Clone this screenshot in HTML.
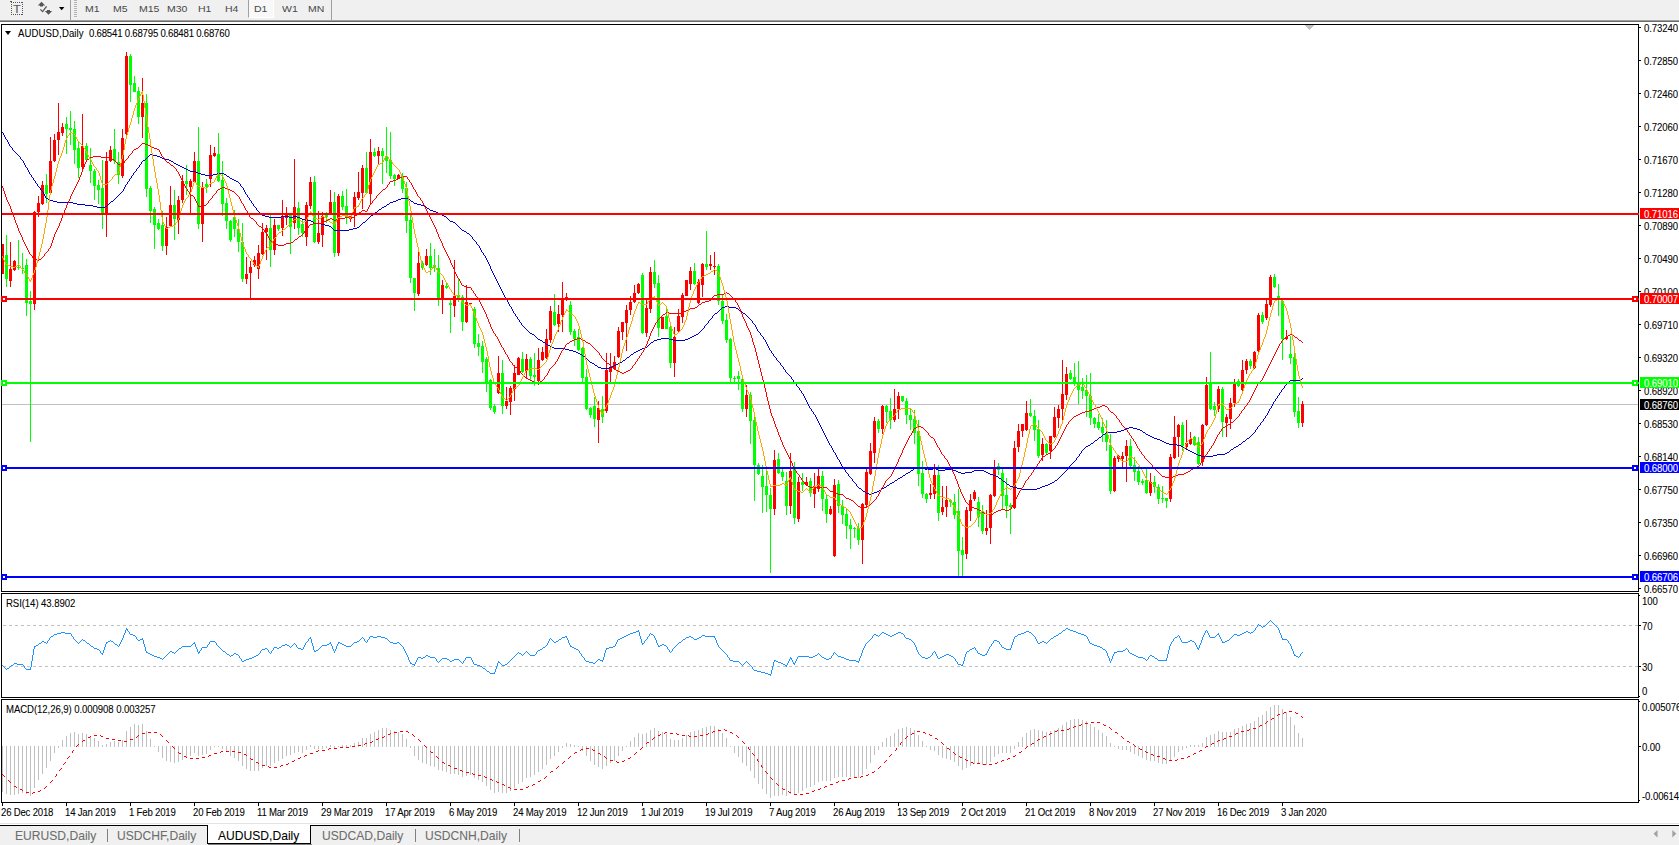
<!DOCTYPE html>
<html lang="en"><head><meta charset="utf-8"><title>AUDUSD,Daily</title>
<style>
html,body{margin:0;padding:0;background:#fff;}
body{width:1679px;height:845px;overflow:hidden;position:relative;font-family:"Liberation Sans", sans-serif;-webkit-text-stroke:0.07px currentColor;}
#app{position:absolute;left:0;top:0;width:1679px;height:845px;overflow:hidden;background:#fff;}
.abs{position:absolute;}
.tb{position:absolute;left:0;top:0;width:1679px;height:20px;background:#f0f0f0;}
.tbt{position:absolute;top:2px;height:14px;line-height:14px;font-size:9.4px;color:#484848;white-space:nowrap;-webkit-text-stroke:0;transform:scaleX(1.12);transform-origin:0 0;}
.ax{position:absolute;left:1644px;width:40px;height:11px;line-height:11px;font-size:9.6px;color:#000;white-space:nowrap;letter-spacing:-0.1px;}
.axb{position:absolute;left:1640px;width:39px;height:11px;line-height:11px;font-size:9.6px;color:#fff;white-space:nowrap;letter-spacing:-0.1px;padding-left:4px;box-sizing:border-box;}
.dt{position:absolute;top:806px;height:12px;line-height:12px;font-size:9.6px;color:#000;white-space:nowrap;letter-spacing:-0.2px;}
.lbl{position:absolute;height:12px;line-height:12px;font-size:9.6px;color:#000;white-space:nowrap;letter-spacing:-0.08px;}
.tab{position:absolute;top:828px;height:16px;line-height:16px;font-size:12.1px;color:#6d6d6d;white-space:nowrap;}
.t{display:inline-block;position:relative;top:1px;transform:scaleY(1.12);transform-origin:50% 50%;}
svg{position:absolute;left:0;top:0;}

</style></head><body><div id="app">
<div class="tb"></div>
<div class="abs" style="left:0;top:20px;width:1679px;height:1px;background:#a0a0a0"></div>
<div class="abs" style="left:0;top:21px;width:1679px;height:1px;background:#696969"></div>
<div class="abs" style="left:248px;top:0;width:26px;height:18px;background:#f8f8f8;border-left:1px solid #a0a0a0;border-right:1px solid #fff;border-bottom:1px solid #fff;box-sizing:border-box"></div>
<div class="abs" style="left:70px;top:0;width:1px;height:20px;background:#a0a0a0"></div>
<div class="abs" style="left:331px;top:0;width:1px;height:20px;background:#a0a0a0"></div>
<div class="abs" style="left:74px;top:0px;width:3px;height:17px;background:repeating-linear-gradient(#b4b4b4 0 1px,#f0f0f0 1px 2px)"></div>
<div class="tbt" style="left:85px">M1</div>
<div class="tbt" style="left:113px">M5</div>
<div class="tbt" style="left:139px">M15</div>
<div class="tbt" style="left:167px">M30</div>
<div class="tbt" style="left:198px">H1</div>
<div class="tbt" style="left:225px">H4</div>
<div class="tbt" style="left:254px">D1</div>
<div class="tbt" style="left:282px">W1</div>
<div class="tbt" style="left:308px">MN</div>
<svg width="84" height="20" viewBox="0 0 84 20"><path d="M11 2h1v1h-1zM11 14h1v1h-1zM13 2h1v1h-1zM13 14h1v1h-1zM15 2h1v1h-1zM15 14h1v1h-1zM17 2h1v1h-1zM17 14h1v1h-1zM19 2h1v1h-1zM19 14h1v1h-1zM21 2h1v1h-1zM21 14h1v1h-1zM11 4h1v1h-1zM22 4h1v1h-1zM11 6h1v1h-1zM22 6h1v1h-1zM11 8h1v1h-1zM22 8h1v1h-1zM11 10h1v1h-1zM22 10h1v1h-1zM11 12h1v1h-1zM22 12h1v1h-1zM22 2h1v1h-1zM22 14h1v1h-1zM10 1h2v1h-2z" fill="#555" shape-rendering="crispEdges"/><path d="M41.5 1.8L45.2 5.6H43v1h-3v-1H37.8z" fill="#555"/><path d="M48.5 14.8L44.8 11H47v-1h3v1h2.2z" fill="#555"/><path d="M40.4 9.4L42.6 11.6L46.6 6.4" stroke="#555" stroke-width="1.3" fill="none"/><path d="M59 7h5.4l-2.7 3.2z" fill="#000"/></svg>
<div class="abs" style="left:13px;top:2px;height:14px;line-height:14px;font-size:10.5px;color:#555;-webkit-text-stroke:0;transform:scaleX(1.22);transform-origin:0 0">T</div>
<svg width="1679" height="845" viewBox="0 0 1679 845" shape-rendering="crispEdges">
<rect x="1" y="24" width="1638" height="1" fill="#000"/>
<rect x="1" y="591" width="1638" height="1" fill="#000"/>
<rect x="1" y="24" width="1" height="568" fill="#000"/>
<rect x="1" y="593" width="1638" height="1" fill="#000"/>
<rect x="1" y="697" width="1638" height="1" fill="#000"/>
<rect x="1" y="593" width="1" height="105" fill="#000"/>
<rect x="1" y="699" width="1638" height="1" fill="#000"/>
<rect x="1" y="802" width="1638" height="1" fill="#000"/>
<rect x="1" y="699" width="1" height="104" fill="#000"/>
<rect x="1638" y="24" width="1" height="568" fill="#000"/>
<rect x="1638" y="593" width="1" height="105" fill="#000"/>
<rect x="1638" y="699" width="1" height="104" fill="#000"/>
<rect x="1639" y="27" width="2" height="1" fill="#000"/>
<rect x="1639" y="60" width="2" height="1" fill="#000"/>
<rect x="1639" y="93" width="2" height="1" fill="#000"/>
<rect x="1639" y="126" width="2" height="1" fill="#000"/>
<rect x="1639" y="159" width="2" height="1" fill="#000"/>
<rect x="1639" y="192" width="2" height="1" fill="#000"/>
<rect x="1639" y="225" width="2" height="1" fill="#000"/>
<rect x="1639" y="258" width="2" height="1" fill="#000"/>
<rect x="1639" y="291" width="2" height="1" fill="#000"/>
<rect x="1639" y="324" width="2" height="1" fill="#000"/>
<rect x="1639" y="357" width="2" height="1" fill="#000"/>
<rect x="1639" y="390" width="2" height="1" fill="#000"/>
<rect x="1639" y="423" width="2" height="1" fill="#000"/>
<rect x="1639" y="456" width="2" height="1" fill="#000"/>
<rect x="1639" y="489" width="2" height="1" fill="#000"/>
<rect x="1639" y="522" width="2" height="1" fill="#000"/>
<rect x="1639" y="555" width="2" height="1" fill="#000"/>
<rect x="1639" y="588" width="2" height="1" fill="#000"/>
<rect x="1639" y="625" width="2" height="1" fill="#000"/>
<rect x="1639" y="666" width="2" height="1" fill="#000"/>
<rect x="1639" y="746" width="2" height="1" fill="#000"/>
<rect x="1639" y="701" width="1" height="1" fill="#000"/>
<rect x="1639" y="800" width="1" height="1" fill="#000"/>
<rect x="1639" y="595" width="1" height="1" fill="#000"/>
<rect x="1639" y="696" width="1" height="1" fill="#000"/>
<rect x="2" y="803" width="1" height="3" fill="#000"/>
<rect x="66" y="803" width="1" height="3" fill="#000"/>
<rect x="130" y="803" width="1" height="3" fill="#000"/>
<rect x="194" y="803" width="1" height="3" fill="#000"/>
<rect x="258" y="803" width="1" height="3" fill="#000"/>
<rect x="322" y="803" width="1" height="3" fill="#000"/>
<rect x="386" y="803" width="1" height="3" fill="#000"/>
<rect x="450" y="803" width="1" height="3" fill="#000"/>
<rect x="514" y="803" width="1" height="3" fill="#000"/>
<rect x="578" y="803" width="1" height="3" fill="#000"/>
<rect x="642" y="803" width="1" height="3" fill="#000"/>
<rect x="706" y="803" width="1" height="3" fill="#000"/>
<rect x="770" y="803" width="1" height="3" fill="#000"/>
<rect x="834" y="803" width="1" height="3" fill="#000"/>
<rect x="898" y="803" width="1" height="3" fill="#000"/>
<rect x="962" y="803" width="1" height="3" fill="#000"/>
<rect x="1026" y="803" width="1" height="3" fill="#000"/>
<rect x="1090" y="803" width="1" height="3" fill="#000"/>
<rect x="1154" y="803" width="1" height="3" fill="#000"/>
<rect x="1218" y="803" width="1" height="3" fill="#000"/>
<rect x="1282" y="803" width="1" height="3" fill="#000"/>
<path d="M3 625.5 H1638" stroke="#c0c0c0" stroke-width="1" stroke-dasharray="3 3" fill="none"/>
<path d="M3 666.5 H1638" stroke="#c0c0c0" stroke-width="1" stroke-dasharray="3 3" fill="none"/>
<rect x="2" y="404" width="1636" height="1" fill="#c0c0c0"/>
<path d="M2.5 746V791.6M6.5 746V794.1M10.5 746V794.75M14.5 746V794.75M18.5 746V793.75M22.5 746V792.9M26.5 746V794.0M30.5 746V795.75M34.5 746V787.5M38.5 746V780.4M42.5 746V773.5M46.5 746V767.5M50.5 746V760.75M54.5 746V752.5M58.5 746V747.5M62.5 740.0V747M66.5 736.25V747M70.5 733.1V747M74.5 732.25V747M78.5 734.0V747M82.5 733.1V747M86.5 734.0V747M90.5 735.6V747M94.5 738.1V747M98.5 741.25V747M102.5 745.25V747M106.5 744.0V747M110.5 742.25V747M114.5 741.25V747M118.5 741.9V747M122.5 740.25V747M126.5 731.25V747M130.5 727.25V747M134.5 724.1V747M138.5 725.0V747M142.5 724.0V747M146.5 731.25V747M150.5 739.0V747M154.5 746V747.25M158.5 746V751.6M162.5 746V757.5M166.5 746V760.8132433255266M170.5 746V761.6422800736253M174.5 746V762.6623409673448M178.5 746V762.4529624324394M182.5 746V759.8304013187786M186.5 746V758.0293425437123M190.5 746V756.4702338773645M194.5 746V753.2788501671826M198.5 746V755.9077985536053M202.5 746V754.8650352324918M206.5 746V753.9614864925551M210.5 746V750.4189414461168M214.5 746V747.4365319350454M218.5 746V747.4846008010172M222.5 746V749.479698077046M226.5 746V752.4654325499691M230.5 746V756.363973899734M234.5 746V758.3728682066906M238.5 746V760.9266814771981M242.5 746V765.926627317794M246.5 746V769.2015455246307M250.5 746V770.9169332624408M254.5 746V771.3909180659672M258.5 746V770.8868921967241M262.5 746V768.4275179253295M266.5 746V765.9150853288361M270.5 746V765.6087116602841M274.5 746V763.0229591333381M278.5 746V761.1558709954204M282.5 746V758.5075796649011M286.5 746V756.1308749439049M290.5 746V755.1888813172774M294.5 746V752.6506106683776M298.5 746V752.389809572394M302.5 746V752.5507861154367M306.5 746V750.2239612995793M310.5 745.4012511044026V747M314.5 746V748.5338361967817M318.5 746V749.4190709668378M322.5 746V748.634180472541M326.5 746V748.0859606817627M330.5 745.3638774792836V747M334.5 746V749.3745644695683M338.5 745.8415797764333V747M342.5 744.79765944631V747M346.5 744.9322815126221V747M350.5 744.8792302866053V747M354.5 743.2288634141993V747M358.5 741.5406906225711V747M362.5 738.2205614191679V747M366.5 737.8416262478077V747M370.5 734.1385248554483V747M374.5 731.7137922705874V747M378.5 729.5501485776755V747M382.5 728.4691790518393V747M386.5 728.2487772583372V747M390.5 729.5585815792278V747M394.5 731.0281862678428V747M398.5 732.0088207386784V747M402.5 734.1314123459307V747M406.5 738.66073941968V747M410.5 746V748.1577202725086M414.5 746V756.0818962620154M418.5 746V759.6264175563407M422.5 746V762.6863035734549M426.5 746V763.880736352114M430.5 746V765.6483249670031M434.5 746V766.8206713180757M438.5 746V770.1590270453959M442.5 746V771.3157827696439M446.5 746V772.2010080598587M450.5 746V774.058252401642M454.5 746V774.4368878234551M458.5 746V774.67690655132M462.5 746V776.5125080695693M466.5 746V775.9074116595071M470.5 746V775.1892501263261M474.5 746V777.8045307231145M478.5 746V779.7585290849383M482.5 746V782.1963135636872M486.5 746V785.5827740340305M490.5 746V789.8445991149845M494.5 746V793.0367624934369M498.5 746V791.6846140319414M502.5 746V792.9324315205309M506.5 746V792.9598895746249M510.5 746V791.3481443045835M514.5 746V788.2997983064103M518.5 746V784.1606494129563M522.5 746V781.6890879151467M526.5 746V778.2478635279098M530.5 746V776.6465292851592M534.5 746V775.1394165425995M538.5 746V772.1870703552189M542.5 746V768.9041781243943M546.5 746V764.9729927331232M550.5 746V759.2984945314909M554.5 746V755.9073534319056M558.5 746V752.210161722623M562.5 746V747.9739358370894M566.5 743.4731643715984V747M570.5 743.7463020740337V747M574.5 744.583404320996V747M578.5 746V747.1942036784756M582.5 746V750.8437020369768M586.5 746V756.3049200981069M590.5 746V760.9896894826367M594.5 746V764.842050359701M598.5 746V766.7181471286733M602.5 746V768.7314296764797M606.5 746V766.0498721345608M610.5 746V763.4758060481171M614.5 746V760.8445989134802M618.5 746V755.9796112875663M622.5 746V751.2975651519422M626.5 745.556167764456V747M630.5 741.163687300965V747M634.5 737.0092855118158V747M638.5 733.0887562087083V747M642.5 734.3462092528174V747M646.5 733.330548907101V747M650.5 729.6067272660464V747M654.5 727.9001736328529V747M658.5 730.5246219283484V747M662.5 731.8183647195259V747M666.5 734.0177474653918V747M670.5 738.7792259498481V747M674.5 740.3730199290569V747M678.5 739.8935771317223V747M682.5 737.7952672621363V747M686.5 734.9646028687924V747M690.5 732.1044909856807V747M694.5 731.1315145314455V747M698.5 730.3679603845575V747M702.5 728.4116483202062V747M706.5 727.3354003794608V747M710.5 726.4488500404334V747M714.5 726.1477565336611V747M718.5 729.1252049768353V747M722.5 733.3571899544355V747M726.5 738.4385001337397V747M730.5 745.7489041981293V747M734.5 746V752.5646362840927M738.5 746V757.05770687812M742.5 746V763.023682443941M746.5 746V766.3204291482275M750.5 746V770.9021716548076M754.5 746V777.9746924470268M758.5 746V783.9309676589914M762.5 746V789.2861978841088M766.5 746V793.6827654352189M770.5 746V797.7902169236374M774.5 746V796.2475436756285M778.5 746V795.5871695401781M782.5 746V794.8574666331264M786.5 746V796.2154131018666M790.5 746V793.7313603452994M794.5 746V795.2638780937816M798.5 746V792.8420953677066M802.5 746V790.678308338175M806.5 746V788.2292369699422M810.5 746V786.7794064847594M814.5 746V784.5927505355443M818.5 746V781.5976907043124M822.5 746V780.8198171787908M826.5 746V781.1051517390342M830.5 746V780.513311541934M834.5 746V777.619395956245M838.5 746V776.7954111030862M842.5 746V776.578404471452M846.5 746V777.0101156744703M850.5 746V777.262393457684M854.5 746V777.1151764108265M858.5 746V777.5954490043181M862.5 746V774.5506073002814M866.5 746V769.1200071347927M870.5 746V762.8209166490967M874.5 746V755.1450551450484M878.5 746V749.721150745833M882.5 742.4776837323985V747M886.5 738.1382951395996V747M890.5 735.5108496880061V747M894.5 732.6330378025792V747M898.5 729.4211733693468V747M902.5 727.5204180806764V747M906.5 727.4366604764411V747M910.5 728.0093166679584V747M914.5 729.7724995236772V747M918.5 734.8380271556737V747M922.5 740.6408682250424V747M926.5 745.6750566223907V747M930.5 746V750.1108481187712M934.5 746V751.2310275101521M938.5 746V755.3035937506539M942.5 746V757.887646666847M946.5 746V759.1906915001103M950.5 746V760.2433623994386M954.5 746V762.02668161334M958.5 746V766.3250823617141M962.5 746V769.8139305708034M966.5 746V768.4467988858439M970.5 746V766.2778159186264M974.5 746V763.6760117313668M978.5 746V763.5811722243675M982.5 746V764.512753148294M986.5 746V764.7870105776695M990.5 746V761.9827642222097M994.5 746V757.225272142776M998.5 746V753.637403121011M1002.5 746V752.969751836835M1006.5 746V753.232092298631M1010.5 746V753.4519547460895M1014.5 746V748.5152685347193M1018.5 742.1793436809816V747M1022.5 737.4448937142805V747M1026.5 732.8942544278287V747M1030.5 729.7343301038694V747M1034.5 728.6388142865366V747M1038.5 730.1973495737475V747M1042.5 730.5743588916528V747M1046.5 731.8136417354842V747M1050.5 731.4953749939326V747M1054.5 729.7897407551408V747M1058.5 727.9553815848925V747M1062.5 725.4436516218244V747M1066.5 722.0031115320719V747M1070.5 720.0077307214816V747M1074.5 719.0819905483652V747M1078.5 719.2608757877093V747M1082.5 719.7910934484711V747M1086.5 720.9319133607464V747M1090.5 723.9890072927179V747M1094.5 727.1470801407891V747M1098.5 730.1775860031561V747M1102.5 733.1589565855814V747M1106.5 736.4092393068125V747M1110.5 743.2470096566215V747M1114.5 745.819190813422V747M1118.5 746V748.6658008770952M1122.5 746V750.093591657727M1126.5 746V750.3235161177178M1130.5 746V752.1727024060331M1134.5 746V754.074623167327M1138.5 746V756.3375699743716M1142.5 746V758.0894689866176M1146.5 746V760.1891241575784M1150.5 746V760.7450432502827M1154.5 746V761.4506839448286M1158.5 746V762.8630087035866M1162.5 746V763.7887559225156M1166.5 746V764.4934236832925M1170.5 746V761.0909326408474M1174.5 746V756.5576620072069M1178.5 746V751.8728824989925M1182.5 746V749.9392066918009M1186.5 746V748.134685160403M1190.5 745.366571180886V747M1194.5 744.5005915183815V747M1198.5 745.4607795259349V747M1202.5 742.8907128447036V747M1206.5 737.4987195710238V747M1210.5 735.4194091484042V747M1214.5 733.9962423633459V747M1218.5 731.22575369732V747M1222.5 732.0399298328971V747M1226.5 732.4101760199599V747M1230.5 731.6602801217889V747M1234.5 729.4439035436839V747M1238.5 728.2374838054525V747M1242.5 726.129168297267V747M1246.5 723.9356879859635V747M1250.5 722.8953246490424V747M1254.5 721.1486817035441V747M1258.5 716.9056315514226V747M1262.5 714.5102865678648V747M1266.5 711.4562201308141V747M1270.5 707.1527511715705V747M1274.5 705.0772515821338V747M1278.5 704.9416565441842V747M1282.5 708.7171642043872V747M1286.5 711.9293665611426V747M1290.5 716.6265855591307V747M1294.5 725.2501690069223V747M1298.5 733.181809593702V747M1302.5 737.9205593346597V747" stroke="#c0c0c0" stroke-width="1" fill="none"/>
<path d="M1289 711h3v1h-3zM1284 712h2v1h-2zM1295 712h1v1h-1zM1283 713h1v1h-1zM1296 713h2v1h-2zM1278 714h2v1h-2zM1277 715h1v1h-1zM1301 716h1v1h-1zM1302 717h1v1h-1zM1272 718h2v1h-2zM1271 719h1v1h-1zM1267 721h1v1h-1zM1091 722h3v1h-3zM1097 722h3v1h-3zM1266 722h1v1h-1zM1085 723h3v1h-3zM1265 723h1v1h-1zM1081 724h1v1h-1zM1103 724h1v1h-1zM1079 725h2v1h-2zM1104 725h2v1h-2zM1260 725h2v1h-2zM1074 726h2v1h-2zM1259 726h1v1h-1zM1073 727h1v1h-1zM1109 727h1v1h-1zM1069 728h1v1h-1zM1110 728h1v1h-1zM1253 728h3v1h-3zM724 729h1v1h-1zM1067 729h2v1h-2zM1111 729h1v1h-1zM1249 729h1v1h-1zM718 730h3v1h-3zM725 730h2v1h-2zM1057 730h1v1h-1zM1061 730h3v1h-3zM1247 730h2v1h-2zM400 731h3v1h-3zM406 731h2v1h-2zM713 731h2v1h-2zM917 731h3v1h-3zM1055 731h2v1h-2zM1241 731h3v1h-3zM148 732h3v1h-3zM154 732h3v1h-3zM394 732h3v1h-3zM408 732h1v1h-1zM665 732h2v1h-2zM712 732h1v1h-1zM730 732h2v1h-2zM923 732h2v1h-2zM1115 732h2v1h-2zM142 733h3v1h-3zM390 733h1v1h-1zM664 733h1v1h-1zM670 733h3v1h-3zM676 733h1v1h-1zM708 733h1v1h-1zM732 733h1v1h-1zM912 733h2v1h-2zM925 733h1v1h-1zM1050 733h2v1h-2zM1117 733h1v1h-1zM1236 733h2v1h-2zM160 734h1v1h-1zM388 734h2v1h-2zM412 734h1v1h-1zM660 734h1v1h-1zM677 734h2v1h-2zM706 734h2v1h-2zM911 734h1v1h-1zM929 734h1v1h-1zM1049 734h1v1h-1zM1235 734h1v1h-1zM94 735h3v1h-3zM100 735h1v1h-1zM138 735h1v1h-1zM161 735h1v1h-1zM413 735h1v1h-1zM658 735h2v1h-2zM682 735h3v1h-3zM688 735h1v1h-1zM700 735h3v1h-3zM736 735h1v1h-1zM930 735h2v1h-2zM90 736h1v1h-1zM101 736h2v1h-2zM137 736h1v1h-1zM162 736h1v1h-1zM384 736h1v1h-1zM414 736h1v1h-1zM689 736h2v1h-2zM694 736h3v1h-3zM737 736h1v1h-1zM907 736h1v1h-1zM1044 736h2v1h-2zM1121 736h1v1h-1zM1229 736h3v1h-3zM88 737h2v1h-2zM136 737h1v1h-1zM382 737h2v1h-2zM654 737h1v1h-1zM738 737h1v1h-1zM906 737h1v1h-1zM1043 737h1v1h-1zM1122 737h1v1h-1zM106 738h3v1h-3zM378 738h1v1h-1zM653 738h1v1h-1zM905 738h1v1h-1zM935 738h2v1h-2zM1123 738h1v1h-1zM1224 738h2v1h-2zM112 739h3v1h-3zM130 739h3v1h-3zM376 739h2v1h-2zM418 739h1v1h-1zM652 739h1v1h-1zM937 739h1v1h-1zM1038 739h2v1h-2zM1223 739h1v1h-1zM83 740h2v1h-2zM118 740h3v1h-3zM166 740h1v1h-1zM419 740h1v1h-1zM1037 740h1v1h-1zM1218 740h2v1h-2zM82 741h1v1h-1zM124 741h3v1h-3zM167 741h1v1h-1zM372 741h1v1h-1zM420 741h1v1h-1zM742 741h1v1h-1zM1127 741h2v1h-2zM1217 741h1v1h-1zM168 742h1v1h-1zM370 742h2v1h-2zM647 742h2v1h-2zM743 742h1v1h-1zM901 742h1v1h-1zM941 742h1v1h-1zM1129 742h1v1h-1zM365 743h2v1h-2zM646 743h1v1h-1zM744 743h1v1h-1zM900 743h1v2h-1zM942 743h1v1h-1zM1032 743h2v1h-2zM1212 743h2v1h-2zM78 744h1v1h-1zM364 744h1v1h-1zM943 744h1v1h-1zM1031 744h1v1h-1zM1133 744h1v1h-1zM1211 744h1v1h-1zM77 745h1v1h-1zM358 745h3v1h-3zM424 745h1v1h-1zM1134 745h1v1h-1zM76 746h1v1h-1zM172 746h1v1h-1zM352 746h3v1h-3zM425 746h1v1h-1zM1027 746h1v1h-1zM1135 746h1v1h-1zM1206 746h2v1h-2zM173 747h1v1h-1zM340 747h3v1h-3zM346 747h3v1h-3zM426 747h1v1h-1zM642 747h1v1h-1zM748 747h1v2h-1zM1026 747h1v1h-1zM1205 747h1v1h-1zM174 748h1v1h-1zM329 748h2v1h-2zM334 748h3v1h-3zM586 748h3v1h-3zM641 748h1v1h-1zM896 748h1v2h-1zM947 748h2v1h-2zM1025 748h1v1h-1zM1139 748h1v1h-1zM328 749h1v1h-1zM581 749h2v1h-2zM592 749h1v1h-1zM640 749h1v1h-1zM749 749h1v1h-1zM949 749h1v1h-1zM1140 749h2v1h-2zM73 750h1v1h-1zM318 750h1v1h-1zM322 750h3v1h-3zM580 750h1v1h-1zM593 750h2v1h-2zM895 750h1v1h-1zM1200 750h2v1h-2zM72 751h1v2h-1zM221 751h2v1h-2zM226 751h3v1h-3zM232 751h3v1h-3zM316 751h2v1h-2zM430 751h1v1h-1zM1021 751h1v1h-1zM1145 751h1v1h-1zM1199 751h1v1h-1zM178 752h1v1h-1zM220 752h1v1h-1zM238 752h3v1h-3zM431 752h2v1h-2zM575 752h2v1h-2zM636 752h1v1h-1zM953 752h1v1h-1zM1019 752h2v1h-2zM1146 752h2v1h-2zM179 753h2v1h-2zM214 753h3v1h-3zM310 753h3v1h-3zM574 753h1v1h-1zM598 753h2v1h-2zM635 753h1v1h-1zM752 753h1v1h-1zM954 753h1v1h-1zM1194 753h2v1h-2zM244 754h2v1h-2zM600 754h1v1h-1zM634 754h1v1h-1zM753 754h1v1h-1zM891 754h1v1h-1zM955 754h1v1h-1zM1151 754h2v1h-2zM1193 754h1v1h-1zM209 755h2v1h-2zM246 755h1v1h-1zM305 755h2v1h-2zM754 755h1v1h-1zM890 755h1v1h-1zM1015 755h1v1h-1zM1153 755h1v1h-1zM69 756h1v1h-1zM184 756h2v1h-2zM208 756h1v1h-1zM304 756h1v1h-1zM436 756h1v1h-1zM570 756h1v1h-1zM604 756h1v1h-1zM889 756h1v1h-1zM959 756h1v1h-1zM1013 756h2v1h-2zM1157 756h3v1h-3zM1188 756h2v1h-2zM68 757h1v1h-1zM186 757h1v1h-1zM202 757h3v1h-3zM300 757h1v1h-1zM437 757h1v1h-1zM569 757h1v1h-1zM605 757h1v1h-1zM630 757h1v1h-1zM960 757h2v1h-2zM1187 757h1v1h-1zM67 758h1v1h-1zM190 758h3v1h-3zM196 758h3v1h-3zM250 758h1v1h-1zM298 758h2v1h-2zM438 758h1v1h-1zM568 758h1v1h-1zM606 758h1v1h-1zM628 758h2v1h-2zM1008 758h2v1h-2zM1163 758h2v1h-2zM1181 758h3v1h-3zM251 759h2v1h-2zM757 759h1v2h-1zM965 759h1v1h-1zM1007 759h1v1h-1zM1165 759h1v1h-1zM1177 759h1v1h-1zM294 760h1v1h-1zM610 760h3v1h-3zM624 760h1v1h-1zM886 760h1v1h-1zM966 760h2v1h-2zM1002 760h2v1h-2zM1169 760h3v1h-3zM1175 760h2v1h-2zM292 761h2v1h-2zM564 761h1v1h-1zM616 761h1v1h-1zM622 761h2v1h-2zM758 761h1v1h-1zM885 761h1v1h-1zM1001 761h1v1h-1zM65 762h1v1h-1zM256 762h2v1h-2zM442 762h2v1h-2zM563 762h1v1h-1zM617 762h2v1h-2zM884 762h1v1h-1zM971 762h2v1h-2zM997 762h1v1h-1zM64 763h1v1h-1zM258 763h1v1h-1zM288 763h1v1h-1zM444 763h1v1h-1zM562 763h1v1h-1zM973 763h1v1h-1zM977 763h3v1h-3zM995 763h2v1h-2zM63 764h1v1h-1zM286 764h2v1h-2zM983 764h3v1h-3zM989 764h3v1h-3zM262 765h3v1h-3zM281 765h2v1h-2zM448 765h2v1h-2zM761 765h1v2h-1zM268 766h1v1h-1zM280 766h1v1h-1zM450 766h1v1h-1zM558 766h1v1h-1zM880 766h1v1h-1zM269 767h2v1h-2zM274 767h3v1h-3zM557 767h1v1h-1zM762 767h1v1h-1zM879 767h1v1h-1zM61 768h1v1h-1zM454 768h3v1h-3zM556 768h1v1h-1zM878 768h1v1h-1zM60 769h1v1h-1zM59 770h1v1h-1zM460 770h2v1h-2zM462 771h1v1h-1zM551 771h2v1h-2zM765 771h1v1h-1zM874 771h1v1h-1zM466 772h3v1h-3zM550 772h1v1h-1zM766 772h1v1h-1zM872 772h2v1h-2zM472 773h1v1h-1zM767 773h1v1h-1zM2 774h1v1h-1zM56 774h1v2h-1zM473 774h2v1h-2zM868 774h1v1h-1zM3 775h1v1h-1zM478 775h3v1h-3zM866 775h2v1h-2zM4 776h1v1h-1zM55 776h1v1h-1zM484 776h1v1h-1zM546 776h1v1h-1zM861 776h2v1h-2zM485 777h2v1h-2zM545 777h1v1h-1zM770 777h1v1h-1zM854 777h3v1h-3zM860 777h1v1h-1zM544 778h1v1h-1zM771 778h1v1h-1zM849 778h2v1h-2zM490 779h2v1h-2zM772 779h1v1h-1zM848 779h1v1h-1zM8 780h1v1h-1zM52 780h1v1h-1zM492 780h1v1h-1zM540 780h1v1h-1zM842 780h3v1h-3zM9 781h1v1h-1zM51 781h1v1h-1zM496 781h1v1h-1zM538 781h2v1h-2zM838 781h1v1h-1zM10 782h1v1h-1zM50 782h1v1h-1zM497 782h2v1h-2zM836 782h2v1h-2zM776 783h1v1h-1zM502 784h2v1h-2zM533 784h2v1h-2zM777 784h1v1h-1zM830 784h3v1h-3zM504 785h1v1h-1zM532 785h1v1h-1zM778 785h1v1h-1zM14 786h2v1h-2zM46 786h1v1h-1zM528 786h1v1h-1zM825 786h2v1h-2zM16 787h1v1h-1zM45 787h1v1h-1zM508 787h2v1h-2zM526 787h2v1h-2zM824 787h1v1h-1zM44 788h1v1h-1zM510 788h1v1h-1zM782 788h1v1h-1zM820 788h1v1h-1zM20 789h2v1h-2zM514 789h3v1h-3zM520 789h3v1h-3zM783 789h2v1h-2zM818 789h2v1h-2zM22 790h1v1h-1zM40 790h1v1h-1zM814 790h1v1h-1zM38 791h2v1h-2zM788 791h1v1h-1zM812 791h2v1h-2zM26 792h3v1h-3zM33 792h2v1h-2zM789 792h2v1h-2zM32 793h1v1h-1zM806 793h3v1h-3zM794 794h3v1h-3zM800 794h3v1h-3z" fill="#ff0000"/>
<path d="M1270 620h1v1h-1zM1269 621h1v1h-1zM1271 621h1v1h-1zM1268 622h1v1h-1zM1272 622h1v1h-1zM1267 623h1v1h-1zM1273 623h1v1h-1zM1258 624h1v1h-1zM1266 624h1v1h-1zM1274 624h1v1h-1zM1257 625h1v2h-1zM1259 625h2v1h-2zM1265 625h1v1h-1zM1275 625h1v1h-1zM1261 626h1v1h-1zM1263 626h2v1h-2zM1276 626h1v1h-1zM1256 627h1v1h-1zM1262 627h1v1h-1zM1277 627h1v1h-1zM126 628h1v2h-1zM1066 628h2v1h-2zM1255 628h1v2h-1zM1278 628h1v2h-1zM127 629h1v2h-1zM1065 629h1v1h-1zM1068 629h2v1h-2zM125 630h1v3h-1zM638 630h1v2h-1zM1063 630h2v1h-2zM1070 630h3v1h-3zM1206 630h1v1h-1zM1254 630h1v1h-1zM1279 630h1v3h-1zM128 631h1v1h-1zM636 631h2v1h-2zM1026 631h3v1h-3zM1062 631h1v1h-1zM1073 631h3v1h-3zM1205 631h1v2h-1zM1207 631h1v2h-1zM1246 631h2v1h-2zM1253 631h1v1h-1zM61 632h4v1h-4zM129 632h1v2h-1zM633 632h3v1h-3zM639 632h1v4h-1zM882 632h2v1h-2zM898 632h3v1h-3zM1024 632h2v1h-2zM1029 632h2v1h-2zM1061 632h1v1h-1zM1076 632h2v1h-2zM1244 632h2v1h-2zM1248 632h2v1h-2zM1251 632h2v1h-2zM57 633h4v1h-4zM65 633h6v1h-6zM124 633h1v2h-1zM630 633h3v1h-3zM650 633h1v1h-1zM881 633h1v1h-1zM884 633h2v1h-2zM896 633h2v1h-2zM901 633h2v1h-2zM1021 633h3v1h-3zM1031 633h1v1h-1zM1059 633h2v1h-2zM1078 633h3v1h-3zM1204 633h1v2h-1zM1208 633h1v2h-1zM1218 633h1v2h-1zM1242 633h2v1h-2zM1250 633h1v1h-1zM1280 633h1v2h-1zM54 634h3v1h-3zM71 634h1v2h-1zM130 634h3v1h-3zM628 634h2v1h-2zM649 634h1v2h-1zM651 634h2v1h-2zM874 634h2v1h-2zM880 634h1v1h-1zM886 634h2v1h-2zM894 634h2v1h-2zM903 634h1v1h-1zM1018 634h3v1h-3zM1032 634h1v1h-1zM1058 634h1v1h-1zM1081 634h3v1h-3zM1217 634h1v1h-1zM1234 634h3v1h-3zM1240 634h2v1h-2zM53 635h1v1h-1zM123 635h1v3h-1zM133 635h2v1h-2zM626 635h2v1h-2zM653 635h1v1h-1zM702 635h3v1h-3zM873 635h1v1h-1zM876 635h2v1h-2zM879 635h1v1h-1zM888 635h2v1h-2zM892 635h2v1h-2zM904 635h1v2h-1zM1017 635h1v1h-1zM1033 635h1v1h-1zM1056 635h2v1h-2zM1084 635h2v1h-2zM1178 635h1v1h-1zM1203 635h1v2h-1zM1209 635h1v2h-1zM1216 635h1v1h-1zM1219 635h1v2h-1zM1233 635h1v1h-1zM1237 635h3v1h-3zM1281 635h1v3h-1zM51 636h2v1h-2zM72 636h1v1h-1zM135 636h1v1h-1zM370 636h3v1h-3zM377 636h4v1h-4zM565 636h2v1h-2zM624 636h2v1h-2zM640 636h1v3h-1zM648 636h1v1h-1zM654 636h1v2h-1zM689 636h2v1h-2zM701 636h1v1h-1zM705 636h10v1h-10zM872 636h1v2h-1zM878 636h1v1h-1zM890 636h2v1h-2zM1015 636h2v1h-2zM1034 636h1v1h-1zM1054 636h2v1h-2zM1086 636h1v1h-1zM1177 636h1v1h-1zM1179 636h1v2h-1zM1215 636h1v1h-1zM1232 636h1v1h-1zM50 637h1v1h-1zM73 637h1v2h-1zM136 637h1v2h-1zM310 637h1v2h-1zM362 637h1v1h-1zM369 637h1v2h-1zM373 637h4v1h-4zM381 637h4v1h-4zM562 637h3v1h-3zM566 637h1v1h-1zM622 637h2v1h-2zM647 637h1v2h-1zM686 637h3v1h-3zM691 637h2v1h-2zM699 637h2v1h-2zM714 637h1v1h-1zM905 637h1v1h-1zM1014 637h1v2h-1zM1035 637h1v2h-1zM1053 637h1v1h-1zM1087 637h1v2h-1zM1175 637h2v1h-2zM1202 637h1v3h-1zM1210 637h5v1h-5zM1220 637h1v2h-1zM1231 637h1v1h-1zM49 638h1v2h-1zM122 638h1v2h-1zM142 638h1v2h-1zM309 638h1v1h-1zM361 638h1v1h-1zM363 638h1v1h-1zM385 638h2v1h-2zM550 638h1v1h-1zM561 638h1v1h-1zM567 638h1v2h-1zM620 638h2v1h-2zM655 638h1v2h-1zM685 638h1v1h-1zM693 638h1v1h-1zM697 638h2v1h-2zM715 638h1v2h-1zM871 638h1v1h-1zM906 638h3v1h-3zM1051 638h2v1h-2zM1174 638h1v1h-1zM1180 638h1v2h-1zM1230 638h1v1h-1zM1282 638h1v2h-1zM74 639h1v1h-1zM82 639h1v1h-1zM137 639h1v1h-1zM140 639h2v1h-2zM308 639h1v2h-1zM311 639h1v4h-1zM360 639h1v1h-1zM364 639h1v2h-1zM368 639h1v1h-1zM387 639h1v1h-1zM549 639h1v2h-1zM551 639h1v1h-1zM559 639h2v1h-2zM618 639h2v1h-2zM641 639h1v4h-1zM646 639h1v1h-1zM683 639h2v1h-2zM694 639h3v1h-3zM870 639h1v1h-1zM909 639h2v1h-2zM1013 639h1v3h-1zM1036 639h1v2h-1zM1050 639h1v1h-1zM1088 639h1v2h-1zM1173 639h1v2h-1zM1221 639h1v2h-1zM1229 639h1v1h-1zM1283 639h4v1h-4zM48 640h1v1h-1zM75 640h1v1h-1zM81 640h1v1h-1zM83 640h2v1h-2zM110 640h1v1h-1zM121 640h1v2h-1zM138 640h2v1h-2zM143 640h1v4h-1zM359 640h1v1h-1zM367 640h1v2h-1zM388 640h1v1h-1zM552 640h1v1h-1zM558 640h1v1h-1zM568 640h1v3h-1zM617 640h1v2h-1zM645 640h1v1h-1zM656 640h1v3h-1zM682 640h1v1h-1zM716 640h1v3h-1zM869 640h1v1h-1zM911 640h1v1h-1zM994 640h3v1h-3zM1049 640h1v1h-1zM1181 640h1v2h-1zM1190 640h2v1h-2zM1201 640h1v3h-1zM1227 640h2v1h-2zM1287 640h1v1h-1zM42 641h2v1h-2zM47 641h1v2h-1zM76 641h1v1h-1zM80 641h1v1h-1zM85 641h1v1h-1zM108 641h2v1h-2zM111 641h2v1h-2zM210 641h5v1h-5zM307 641h1v1h-1zM357 641h2v1h-2zM365 641h1v1h-1zM389 641h1v1h-1zM548 641h1v2h-1zM553 641h1v1h-1zM556 641h2v1h-2zM644 641h1v2h-1zM681 641h1v1h-1zM868 641h1v1h-1zM912 641h1v1h-1zM993 641h1v2h-1zM997 641h2v1h-2zM1037 641h1v2h-1zM1042 641h2v1h-2zM1048 641h1v1h-1zM1089 641h1v2h-1zM1172 641h1v1h-1zM1188 641h2v1h-2zM1192 641h2v1h-2zM1222 641h1v2h-1zM1225 641h2v1h-2zM1288 641h1v2h-1zM41 642h1v1h-1zM44 642h2v1h-2zM77 642h1v1h-1zM79 642h1v1h-1zM86 642h1v1h-1zM106 642h2v1h-2zM113 642h1v1h-1zM120 642h1v2h-1zM194 642h1v2h-1zM209 642h1v2h-1zM215 642h1v1h-1zM306 642h1v1h-1zM330 642h1v2h-1zM338 642h2v1h-2zM354 642h3v1h-3zM366 642h1v1h-1zM390 642h3v1h-3zM397 642h2v1h-2zM554 642h2v1h-2zM616 642h1v2h-1zM679 642h2v1h-2zM867 642h1v1h-1zM913 642h1v1h-1zM999 642h1v2h-1zM1012 642h1v3h-1zM1040 642h2v1h-2zM1044 642h2v1h-2zM1047 642h1v1h-1zM1171 642h1v2h-1zM1182 642h6v1h-6zM1194 642h1v1h-1zM1223 642h2v1h-2zM39 643h2v1h-2zM46 643h1v1h-1zM78 643h1v1h-1zM87 643h2v1h-2zM106 643h1v1h-1zM114 643h1v1h-1zM193 643h1v1h-1zM216 643h1v2h-1zM294 643h1v1h-1zM305 643h1v2h-1zM312 643h1v3h-1zM329 643h1v1h-1zM338 643h1v1h-1zM340 643h2v1h-2zM353 643h1v1h-1zM393 643h4v1h-4zM399 643h1v1h-1zM547 643h1v2h-1zM569 643h1v2h-1zM642 643h2v1h-2zM657 643h1v2h-1zM678 643h1v1h-1zM717 643h1v2h-1zM866 643h1v1h-1zM914 643h1v2h-1zM992 643h1v1h-1zM1038 643h2v1h-2zM1046 643h1v1h-1zM1090 643h2v1h-2zM1195 643h1v2h-1zM1200 643h1v2h-1zM1289 643h1v1h-1zM38 644h1v1h-1zM89 644h1v1h-1zM105 644h1v3h-1zM115 644h2v1h-2zM119 644h1v2h-1zM144 644h1v3h-1zM192 644h1v1h-1zM195 644h1v3h-1zM208 644h1v1h-1zM285 644h2v1h-2zM293 644h1v1h-1zM295 644h1v1h-1zM327 644h2v1h-2zM331 644h1v2h-1zM337 644h1v2h-1zM342 644h2v1h-2zM352 644h1v1h-1zM400 644h1v1h-1zM615 644h1v2h-1zM642 644h1v1h-1zM662 644h2v1h-2zM677 644h1v1h-1zM865 644h1v2h-1zM991 644h1v2h-1zM1000 644h1v1h-1zM1092 644h2v1h-2zM1170 644h1v2h-1zM1290 644h1v2h-1zM36 645h2v1h-2zM90 645h1v1h-1zM117 645h1v1h-1zM191 645h1v1h-1zM207 645h1v2h-1zM217 645h1v1h-1zM282 645h3v1h-3zM287 645h2v1h-2zM292 645h1v1h-1zM296 645h1v2h-1zM304 645h1v2h-1zM322 645h5v1h-5zM344 645h2v1h-2zM351 645h1v1h-1zM401 645h1v1h-1zM546 645h1v1h-1zM570 645h1v2h-1zM658 645h1v2h-1zM660 645h2v1h-2zM664 645h2v1h-2zM676 645h1v1h-1zM718 645h1v2h-1zM915 645h1v2h-1zM1001 645h1v2h-1zM1011 645h1v3h-1zM1094 645h3v1h-3zM1196 645h1v2h-1zM1199 645h1v3h-1zM34 646h2v1h-2zM91 646h2v1h-2zM118 646h1v1h-1zM182 646h9v1h-9zM218 646h1v1h-1zM281 646h1v1h-1zM289 646h1v1h-1zM291 646h1v1h-1zM313 646h1v4h-1zM321 646h1v1h-1zM332 646h1v3h-1zM336 646h1v3h-1zM346 646h5v1h-5zM402 646h1v1h-1zM545 646h1v1h-1zM571 646h1v1h-1zM613 646h2v1h-2zM659 646h1v1h-1zM666 646h1v1h-1zM675 646h1v1h-1zM864 646h1v2h-1zM990 646h1v1h-1zM1097 646h3v1h-3zM1169 646h1v4h-1zM1291 646h1v3h-1zM34 647h1v2h-1zM93 647h1v1h-1zM104 647h1v3h-1zM145 647h1v4h-1zM181 647h1v1h-1zM196 647h1v2h-1zM202 647h5v1h-5zM219 647h1v1h-1zM274 647h3v1h-3zM279 647h2v1h-2zM290 647h1v1h-1zM297 647h1v1h-1zM303 647h1v2h-1zM320 647h1v1h-1zM403 647h1v2h-1zM543 647h2v1h-2zM572 647h2v1h-2zM609 647h4v1h-4zM667 647h1v2h-1zM674 647h1v1h-1zM719 647h1v1h-1zM916 647h1v3h-1zM974 647h1v1h-1zM989 647h1v2h-1zM1002 647h2v1h-2zM1100 647h2v1h-2zM1197 647h1v2h-1zM94 648h3v1h-3zM179 648h2v1h-2zM201 648h1v2h-1zM220 648h1v1h-1zM265 648h2v1h-2zM273 648h1v2h-1zM277 648h2v1h-2zM298 648h3v1h-3zM319 648h1v1h-1zM542 648h1v1h-1zM574 648h2v1h-2zM606 648h3v1h-3zM673 648h1v1h-1zM720 648h1v1h-1zM863 648h1v2h-1zM972 648h2v1h-2zM975 648h1v2h-1zM1004 648h2v1h-2zM1010 648h1v2h-1zM1102 648h1v1h-1zM1126 648h1v1h-1zM1198 648h1v2h-1zM33 649h1v6h-1zM97 649h2v1h-2zM178 649h1v1h-1zM197 649h1v3h-1zM221 649h1v1h-1zM262 649h3v1h-3zM267 649h1v1h-1zM301 649h2v1h-2zM318 649h1v1h-1zM333 649h1v2h-1zM335 649h1v2h-1zM404 649h1v2h-1zM540 649h2v1h-2zM576 649h2v1h-2zM606 649h1v1h-1zM668 649h1v1h-1zM672 649h1v2h-1zM721 649h1v1h-1zM970 649h2v1h-2zM988 649h1v2h-1zM1006 649h4v1h-4zM1103 649h2v1h-2zM1125 649h1v1h-1zM1127 649h1v1h-1zM1292 649h1v2h-1zM99 650h1v1h-1zM103 650h1v3h-1zM177 650h1v1h-1zM200 650h1v1h-1zM222 650h1v1h-1zM261 650h1v1h-1zM268 650h1v2h-1zM272 650h1v1h-1zM314 650h1v2h-1zM316 650h2v1h-2zM538 650h2v1h-2zM578 650h1v1h-1zM605 650h1v3h-1zM669 650h1v2h-1zM722 650h1v1h-1zM862 650h1v3h-1zM917 650h1v2h-1zM969 650h1v1h-1zM976 650h1v1h-1zM1105 650h1v1h-1zM1123 650h2v1h-2zM1128 650h1v2h-1zM1168 650h1v4h-1zM100 651h1v2h-1zM146 651h1v2h-1zM170 651h2v1h-2zM176 651h1v1h-1zM199 651h1v2h-1zM223 651h2v1h-2zM260 651h1v2h-1zM271 651h1v2h-1zM315 651h1v1h-1zM334 651h1v2h-1zM405 651h1v2h-1zM526 651h1v1h-1zM537 651h1v1h-1zM579 651h1v2h-1zM671 651h1v1h-1zM723 651h1v1h-1zM934 651h1v1h-1zM967 651h2v1h-2zM977 651h1v2h-1zM987 651h1v2h-1zM1106 651h1v2h-1zM1117 651h6v1h-6zM1293 651h1v3h-1zM147 652h1v1h-1zM169 652h1v1h-1zM172 652h2v1h-2zM175 652h1v1h-1zM198 652h1v2h-1zM225 652h1v1h-1zM269 652h1v1h-1zM518 652h1v1h-1zM525 652h1v1h-1zM527 652h1v1h-1zM536 652h1v2h-1zM670 652h1v1h-1zM724 652h1v1h-1zM834 652h1v1h-1zM918 652h1v2h-1zM933 652h1v1h-1zM935 652h1v2h-1zM966 652h1v2h-1zM1114 652h3v1h-3zM1129 652h1v1h-1zM1302 652h1v1h-1zM101 653h2v1h-2zM148 653h2v1h-2zM168 653h1v1h-1zM174 653h1v1h-1zM226 653h1v1h-1zM234 653h2v1h-2zM259 653h1v1h-1zM270 653h1v1h-1zM406 653h1v2h-1zM517 653h1v1h-1zM519 653h2v1h-2zM524 653h1v1h-1zM528 653h1v1h-1zM580 653h1v1h-1zM604 653h1v4h-1zM725 653h1v1h-1zM818 653h1v1h-1zM833 653h1v2h-1zM835 653h1v1h-1zM861 653h1v3h-1zM932 653h1v2h-1zM978 653h2v1h-2zM986 653h1v2h-1zM1107 653h1v3h-1zM1114 653h1v1h-1zM1130 653h2v1h-2zM1301 653h1v1h-1zM102 654h1v1h-1zM150 654h2v1h-2zM167 654h1v1h-1zM227 654h2v1h-2zM233 654h1v1h-1zM236 654h2v1h-2zM258 654h1v1h-1zM516 654h1v1h-1zM521 654h1v1h-1zM523 654h1v1h-1zM529 654h1v1h-1zM535 654h1v1h-1zM581 654h1v2h-1zM726 654h1v1h-1zM817 654h1v1h-1zM819 654h1v1h-1zM836 654h1v1h-1zM919 654h1v1h-1zM936 654h1v2h-1zM946 654h3v1h-3zM965 654h1v3h-1zM980 654h2v1h-2zM985 654h1v1h-1zM1113 654h1v2h-1zM1132 654h2v1h-2zM1167 654h1v4h-1zM1294 654h1v2h-1zM1300 654h1v2h-1zM32 655h1v6h-1zM152 655h2v1h-2zM166 655h1v1h-1zM229 655h1v1h-1zM231 655h2v1h-2zM238 655h1v1h-1zM256 655h2v1h-2zM407 655h1v2h-1zM426 655h2v1h-2zM515 655h1v1h-1zM522 655h1v1h-1zM530 655h5v1h-5zM727 655h1v2h-1zM815 655h2v1h-2zM820 655h1v1h-1zM832 655h1v1h-1zM837 655h1v1h-1zM920 655h1v1h-1zM931 655h1v1h-1zM944 655h2v1h-2zM949 655h2v1h-2zM982 655h3v1h-3zM1134 655h2v1h-2zM1150 655h2v1h-2zM1295 655h1v1h-1zM154 656h3v1h-3zM165 656h1v1h-1zM230 656h1v1h-1zM239 656h1v2h-1zM254 656h2v1h-2zM425 656h1v1h-1zM428 656h2v1h-2zM514 656h1v1h-1zM582 656h1v1h-1zM798 656h11v1h-11zM813 656h2v1h-2zM821 656h1v1h-1zM831 656h1v2h-1zM838 656h3v1h-3zM860 656h1v2h-1zM921 656h1v1h-1zM930 656h1v1h-1zM937 656h1v2h-1zM942 656h2v1h-2zM951 656h2v1h-2zM1108 656h1v2h-1zM1112 656h1v3h-1zM1136 656h2v1h-2zM1149 656h1v1h-1zM1152 656h2v1h-2zM1296 656h2v1h-2zM1299 656h1v1h-1zM157 657h3v1h-3zM164 657h1v1h-1zM252 657h2v1h-2zM408 657h1v3h-1zM418 657h3v1h-3zM423 657h2v1h-2zM430 657h5v1h-5zM466 657h5v1h-5zM513 657h1v1h-1zM583 657h1v1h-1zM603 657h1v3h-1zM728 657h1v1h-1zM790 657h1v2h-1zM797 657h1v2h-1zM809 657h4v1h-4zM822 657h2v1h-2zM841 657h3v1h-3zM922 657h3v1h-3zM928 657h2v1h-2zM940 657h2v1h-2zM953 657h1v1h-1zM964 657h1v4h-1zM1138 657h5v1h-5zM1148 657h1v2h-1zM1154 657h1v1h-1zM1298 657h1v1h-1zM160 658h2v1h-2zM163 658h1v1h-1zM240 658h1v1h-1zM249 658h3v1h-3zM417 658h1v2h-1zM421 658h2v1h-2zM435 658h1v1h-1zM442 658h5v1h-5zM465 658h1v2h-1zM471 658h1v2h-1zM512 658h1v1h-1zM584 658h1v2h-1zM729 658h1v2h-1zM791 658h1v2h-1zM824 658h2v1h-2zM829 658h2v1h-2zM844 658h2v1h-2zM859 658h1v3h-1zM925 658h3v1h-3zM938 658h2v1h-2zM954 658h1v1h-1zM1109 658h1v3h-1zM1143 658h2v1h-2zM1155 658h2v1h-2zM1166 658h1v3h-1zM162 659h1v1h-1zM241 659h1v2h-1zM246 659h3v1h-3zM436 659h1v2h-1zM441 659h1v1h-1zM447 659h2v1h-2zM454 659h5v1h-5zM511 659h1v1h-1zM598 659h2v1h-2zM789 659h1v2h-1zM796 659h1v2h-1zM826 659h3v1h-3zM846 659h3v1h-3zM955 659h1v2h-1zM1111 659h1v2h-1zM1145 659h1v1h-1zM1147 659h1v1h-1zM1157 659h1v1h-1zM244 660h2v1h-2zM409 660h1v2h-1zM416 660h1v2h-1zM440 660h1v1h-1zM449 660h1v1h-1zM452 660h2v1h-2zM459 660h1v1h-1zM464 660h1v1h-1zM472 660h1v2h-1zM510 660h1v1h-1zM585 660h1v1h-1zM597 660h1v1h-1zM600 660h3v1h-3zM730 660h3v1h-3zM774 660h2v1h-2zM792 660h1v2h-1zM849 660h7v1h-7zM1146 660h1v1h-1zM1158 660h8v1h-8zM31 661h1v6h-1zM242 661h2v1h-2zM437 661h1v1h-1zM439 661h1v1h-1zM450 661h2v1h-2zM460 661h1v1h-1zM463 661h1v2h-1zM498 661h1v2h-1zM509 661h1v1h-1zM586 661h3v1h-3zM596 661h1v1h-1zM602 661h1v1h-1zM733 661h6v1h-6zM746 661h1v1h-1zM774 661h1v1h-1zM776 661h2v1h-2zM788 661h1v2h-1zM795 661h1v2h-1zM856 661h3v1h-3zM956 661h1v1h-1zM963 661h1v3h-1zM1110 661h1v2h-1zM410 662h1v2h-1zM415 662h1v2h-1zM438 662h1v1h-1zM461 662h1v1h-1zM473 662h1v2h-1zM499 662h1v1h-1zM508 662h1v1h-1zM589 662h4v1h-4zM595 662h1v1h-1zM739 662h1v1h-1zM745 662h1v1h-1zM747 662h1v1h-1zM773 662h1v4h-1zM778 662h3v1h-3zM793 662h1v2h-1zM858 662h1v1h-1zM957 662h1v2h-1zM14 663h3v1h-3zM411 663h1v1h-1zM462 663h1v1h-1zM497 663h1v3h-1zM500 663h1v1h-1zM507 663h1v1h-1zM593 663h2v1h-2zM740 663h1v1h-1zM744 663h1v1h-1zM748 663h1v1h-1zM781 663h2v1h-2zM787 663h1v2h-1zM794 663h1v2h-1zM13 664h1v1h-1zM17 664h6v1h-6zM412 664h3v1h-3zM474 664h3v1h-3zM501 664h1v1h-1zM505 664h2v1h-2zM741 664h1v1h-1zM743 664h1v1h-1zM749 664h1v1h-1zM783 664h2v1h-2zM958 664h3v1h-3zM962 664h1v2h-1zM2 665h1v1h-1zM11 665h2v1h-2zM23 665h1v1h-1zM414 665h1v1h-1zM477 665h3v1h-3zM502 665h3v1h-3zM742 665h1v1h-1zM750 665h1v1h-1zM785 665h2v1h-2zM961 665h1v1h-1zM3 666h1v1h-1zM10 666h1v1h-1zM24 666h1v2h-1zM480 666h2v1h-2zM496 666h1v3h-1zM751 666h1v1h-1zM772 666h1v4h-1zM786 666h1v1h-1zM4 667h1v1h-1zM9 667h1v1h-1zM30 667h1v3h-1zM482 667h1v1h-1zM752 667h1v2h-1zM5 668h1v1h-1zM7 668h2v1h-2zM25 668h1v1h-1zM483 668h2v1h-2zM6 669h1v1h-1zM26 669h4v1h-4zM485 669h1v1h-1zM495 669h1v3h-1zM753 669h1v1h-1zM486 670h1v1h-1zM754 670h3v1h-3zM771 670h1v4h-1zM487 671h2v1h-2zM757 671h4v1h-4zM489 672h1v1h-1zM494 672h1v2h-1zM761 672h4v1h-4zM490 673h4v1h-4zM765 673h3v1h-3zM768 674h3v1h-3zM770 675h1v1h-1z" fill="#1e90ff"/>
<path d="M6 235h1V287h-1zM5 255h3V279h-3zM18 240h1V270h-1zM17 267h3V268h-3zM22 253h1V274h-1zM21 268h3V269h-3zM26 259h1V316h-1zM25 265h3V303h-3zM30 291h1V442h-1zM29 301h3V304h-3zM46 174h1V203h-1zM45 185h3V194h-3zM66 117h1V154h-1zM65 124h3V129h-3zM70 111h1V145h-1zM69 128h3V130h-3zM74 121h1V164h-1zM73 129h3V150h-3zM78 141h1V178h-1zM77 148h3V168h-3zM86 143h1V161h-1zM85 146h3V160h-3zM90 148h1V183h-1zM89 165h3V171h-3zM94 169h1V200h-1zM93 171h3V186h-3zM98 180h1V204h-1zM97 185h3V190h-3zM102 160h1V229h-1zM101 188h3V213h-3zM114 129h1V164h-1zM113 149h3V161h-3zM118 152h1V184h-1zM117 162h3V175h-3zM130 54h1V102h-1zM129 56h3V85h-3zM134 76h1V92h-1zM133 83h3V92h-3zM138 87h1V124h-1zM137 91h3V117h-3zM146 94h1V197h-1zM145 103h3V189h-3zM150 186h1V223h-1zM149 188h3V211h-3zM154 207h1V249h-1zM153 209h3V225h-3zM158 219h1V230h-1zM157 223h3V229h-3zM162 211h1V251h-1zM161 225h3V246h-3zM174 190h1V240h-1zM173 205h3V219h-3zM186 165h1V195h-1zM185 181h3V184h-3zM198 127h1V229h-1zM197 161h3V224h-3zM206 179h1V193h-1zM205 184h3V187h-3zM218 133h1V182h-1zM217 154h3V181h-3zM222 161h1V216h-1zM221 180h3V204h-3zM226 198h1V229h-1zM225 203h3V221h-3zM230 220h1V242h-1zM229 221h3V240h-3zM234 210h1V237h-1zM233 217h3V229h-3zM238 219h1V252h-1zM237 229h3V242h-3zM242 223h1V282h-1zM241 242h3V279h-3zM270 213h1V267h-1zM269 228h3V250h-3zM278 225h1V231h-1zM277 225h3V229h-3zM290 215h1V254h-1zM289 215h3V227h-3zM298 202h1V235h-1zM297 208h3V228h-3zM302 220h1V237h-1zM301 224h3V233h-3zM314 176h1V243h-1zM313 182h3V242h-3zM326 212h1V223h-1zM325 215h3V217h-3zM334 192h1V257h-1zM333 202h3V253h-3zM342 191h1V210h-1zM341 196h3V207h-3zM346 189h1V224h-1zM345 206h3V218h-3zM366 152h1V194h-1zM365 168h3V193h-3zM374 148h1V157h-1zM373 152h3V156h-3zM382 148h1V184h-1zM381 151h3V156h-3zM386 127h1V173h-1zM385 156h3V161h-3zM390 132h1V179h-1zM389 160h3V176h-3zM394 174h1V186h-1zM393 175h3V179h-3zM402 173h1V193h-1zM401 176h3V189h-3zM406 182h1V233h-1zM405 188h3V221h-3zM410 213h1V283h-1zM409 220h3V278h-3zM414 278h1V311h-1zM413 278h3V293h-3zM422 261h1V270h-1zM421 263h3V268h-3zM430 243h1V275h-1zM429 256h3V268h-3zM434 249h1V272h-1zM433 265h3V268h-3zM438 255h1V306h-1zM437 268h3V299h-3zM446 283h1V289h-1zM445 286h3V288h-3zM450 300h1V333h-1zM449 303h3V305h-3zM458 279h1V302h-1zM457 295h3V299h-3zM462 295h1V331h-1zM461 297h3V322h-3zM474 307h1V348h-1zM473 309h3V344h-3zM478 334h1V356h-1zM477 343h3V347h-3zM482 341h1V373h-1zM481 346h3V362h-3zM486 357h1V392h-1zM485 359h3V384h-3zM490 379h1V410h-1zM489 380h3V408h-3zM494 404h1V414h-1zM493 406h3V412h-3zM502 360h1V414h-1zM501 373h3V406h-3zM522 352h1V373h-1zM521 359h3V372h-3zM530 357h1V381h-1zM529 359h3V376h-3zM534 353h1V386h-1zM533 375h3V377h-3zM554 294h1V326h-1zM553 312h3V325h-3zM570 301h1V335h-1zM569 305h3V332h-3zM574 329h1V346h-1zM573 331h3V339h-3zM578 329h1V351h-1zM577 337h3V350h-3zM582 347h1V382h-1zM581 348h3V378h-3zM586 369h1V410h-1zM585 377h3V409h-3zM590 407h1V418h-1zM589 408h3V415h-3zM594 397h1V427h-1zM593 406h3V419h-3zM602 396h1V423h-1zM601 409h3V417h-3zM642 273h1V334h-1zM641 275h3V333h-3zM654 260h1V288h-1zM653 272h3V284h-3zM658 275h1V337h-1zM657 283h3V328h-3zM666 306h1V329h-1zM665 316h3V329h-3zM670 326h1V368h-1zM669 327h3V363h-3zM694 263h1V285h-1zM693 271h3V284h-3zM706 231h1V270h-1zM705 264h3V267h-3zM718 264h1V305h-1zM717 266h3V301h-3zM722 294h1V324h-1zM721 301h3V321h-3zM726 314h1V343h-1zM725 320h3V340h-3zM730 338h1V382h-1zM729 339h3V378h-3zM734 376h1V382h-1zM733 378h3V379h-3zM738 371h1V390h-1zM737 376h3V379h-3zM742 378h1V412h-1zM741 379h3V409h-3zM750 392h1V444h-1zM749 395h3V421h-3zM754 416h1V501h-1zM753 420h3V465h-3zM758 463h1V475h-1zM757 465h3V474h-3zM762 465h1V513h-1zM761 476h3V487h-3zM766 469h1V512h-1zM765 486h3V495h-3zM770 488h1V573h-1zM769 495h3V509h-3zM778 453h1V474h-1zM777 459h3V473h-3zM782 469h1V481h-1zM781 472h3V477h-3zM786 472h1V515h-1zM785 481h3V506h-3zM794 462h1V524h-1zM793 469h3V518h-3zM802 473h1V491h-1zM801 482h3V485h-3zM810 478h1V497h-1zM809 481h3V493h-3zM822 471h1V511h-1zM821 476h3V499h-3zM826 494h1V523h-1zM825 499h3V514h-3zM838 480h1V513h-1zM837 484h3V506h-3zM842 500h1V524h-1zM841 506h3V515h-3zM846 509h1V539h-1zM845 514h3V526h-3zM850 519h1V549h-1zM849 525h3V529h-3zM854 527h1V538h-1zM853 528h3V529h-3zM858 523h1V545h-1zM857 528h3V540h-3zM878 419h1V433h-1zM877 421h3V429h-3zM886 405h1V423h-1zM885 406h3V412h-3zM890 398h1V429h-1zM889 411h3V420h-3zM902 396h1V402h-1zM901 396h3V401h-3zM906 398h1V424h-1zM905 401h3V415h-3zM910 409h1V430h-1zM909 415h3V420h-3zM914 410h1V444h-1zM913 419h3V433h-3zM918 420h1V486h-1zM917 431h3V474h-3zM922 461h1V498h-1zM921 473h3V494h-3zM926 493h1V503h-1zM925 494h3V499h-3zM938 465h1V521h-1zM937 475h3V513h-3zM950 499h1V507h-1zM949 500h3V502h-3zM954 494h1V519h-1zM953 502h3V515h-3zM958 489h1V576h-1zM957 511h3V551h-3zM962 537h1V576h-1zM961 550h3V555h-3zM978 497h1V527h-1zM977 502h3V517h-3zM982 505h1V534h-1zM981 512h3V531h-3zM998 463h1V475h-1zM997 466h3V470h-3zM1002 469h1V510h-1zM1001 473h3V496h-3zM1006 478h1V518h-1zM1005 495h3V506h-3zM1010 503h1V534h-1zM1009 505h3V507h-3zM1030 399h1V417h-1zM1029 413h3V416h-3zM1034 410h1V441h-1zM1033 416h3V430h-3zM1038 420h1V458h-1zM1037 429h3V456h-3zM1046 443h1V454h-1zM1045 444h3V453h-3zM1070 370h1V380h-1zM1069 373h3V379h-3zM1074 363h1V386h-1zM1073 377h3V383h-3zM1078 361h1V404h-1zM1077 383h3V390h-3zM1082 378h1V399h-1zM1081 387h3V391h-3zM1086 375h1V417h-1zM1085 390h3V396h-3zM1090 373h1V425h-1zM1089 396h3V418h-3zM1094 417h1V428h-1zM1093 418h3V424h-3zM1098 414h1V430h-1zM1097 422h3V428h-3zM1102 418h1V442h-1zM1101 427h3V433h-3zM1106 420h1V451h-1zM1105 433h3V442h-3zM1110 434h1V494h-1zM1109 445h3V491h-3zM1130 439h1V467h-1zM1129 446h3V466h-3zM1134 457h1V481h-1zM1133 465h3V472h-3zM1138 466h1V485h-1zM1137 471h3V482h-3zM1142 479h1V485h-1zM1141 481h3V483h-3zM1146 469h1V494h-1zM1145 480h3V493h-3zM1154 476h1V493h-1zM1153 482h3V487h-3zM1158 484h1V504h-1zM1157 487h3V499h-3zM1162 486h1V503h-1zM1161 498h3V499h-3zM1166 498h1V508h-1zM1165 498h3V501h-3zM1182 422h1V451h-1zM1181 425h3V446h-3zM1194 436h1V446h-1zM1193 437h3V445h-3zM1198 437h1V465h-1zM1197 442h3V464h-3zM1210 352h1V410h-1zM1209 383h3V409h-3zM1214 402h1V416h-1zM1213 406h3V410h-3zM1222 387h1V437h-1zM1221 389h3V422h-3zM1238 379h1V387h-1zM1237 381h3V386h-3zM1250 359h1V369h-1zM1249 361h3V366h-3zM1262 312h1V324h-1zM1261 315h3V322h-3zM1274 274h1V288h-1zM1273 277h3V287h-3zM1278 284h1V316h-1zM1277 296h3V299h-3zM1282 300h1V360h-1zM1281 301h3V339h-3zM1290 336h1V364h-1zM1289 354h3V358h-3zM1294 352h1V417h-1zM1293 357h3V412h-3zM1298 397h1V428h-1zM1297 411h3V423h-3z" fill="#00ff00"/>
<path d="M2 244h1V274h-1zM2 244h2V274h-2zM10 242h1V287h-1zM9 269h3V281h-3zM14 260h1V271h-1zM13 261h3V270h-3zM34 211h1V310h-1zM33 212h3V304h-3zM38 196h1V217h-1zM37 203h3V212h-3zM42 181h1V205h-1zM41 185h3V204h-3zM50 137h1V193h-1zM49 161h3V193h-3zM54 134h1V162h-1zM53 140h3V161h-3zM58 103h1V155h-1zM57 132h3V140h-3zM62 123h1V136h-1zM61 127h3V133h-3zM82 114h1V169h-1zM81 146h3V167h-3zM106 152h1V237h-1zM105 161h3V214h-3zM110 146h1V162h-1zM109 150h3V161h-3zM122 129h1V178h-1zM121 138h3V176h-3zM126 52h1V135h-1zM125 56h3V134h-3zM142 78h1V138h-1zM141 103h3V117h-3zM166 217h1V255h-1zM165 227h3V246h-3zM170 186h1V226h-1zM169 205h3V226h-3zM178 196h1V234h-1zM177 200h3V220h-3zM182 175h1V203h-1zM181 181h3V200h-3zM190 179h1V213h-1zM189 181h3V187h-3zM194 152h1V183h-1zM193 161h3V182h-3zM202 182h1V242h-1zM201 187h3V224h-3zM210 145h1V187h-1zM209 155h3V179h-3zM214 147h1V157h-1zM213 153h3V156h-3zM246 257h1V284h-1zM245 274h3V279h-3zM250 261h1V298h-1zM249 267h3V273h-3zM254 256h1V267h-1zM253 260h3V265h-3zM258 245h1V279h-1zM257 253h3V269h-3zM262 223h1V255h-1zM261 232h3V254h-3zM266 225h1V260h-1zM265 228h3V232h-3zM274 219h1V255h-1zM273 225h3V250h-3zM282 200h1V236h-1zM281 217h3V228h-3zM286 207h1V225h-1zM285 215h3V218h-3zM294 159h1V229h-1zM293 207h3V223h-3zM306 202h1V246h-1zM305 205h3V237h-3zM310 177h1V209h-1zM309 182h3V206h-3zM318 211h1V244h-1zM317 233h3V242h-3zM322 212h1V247h-1zM321 216h3V235h-3zM330 190h1V213h-1zM329 202h3V213h-3zM338 194h1V256h-1zM337 196h3V253h-3zM350 216h1V222h-1zM349 216h3V218h-3zM354 192h1V227h-1zM353 197h3V213h-3zM358 172h1V200h-1zM357 192h3V198h-3zM362 165h1V209h-1zM361 168h3V193h-3zM370 139h1V204h-1zM369 152h3V194h-3zM378 147h1V164h-1zM377 151h3V156h-3zM398 174h1V179h-1zM397 175h3V179h-3zM418 250h1V296h-1zM417 263h3V294h-3zM426 249h1V266h-1zM425 256h3V265h-3zM442 280h1V314h-1zM441 285h3V300h-3zM454 260h1V317h-1zM453 296h3V306h-3zM466 285h1V323h-1zM465 302h3V322h-3zM470 303h1V304h-1zM469 303h3V304h-3zM498 356h1V394h-1zM497 373h3V393h-3zM506 387h1V409h-1zM505 401h3V406h-3zM510 386h1V415h-1zM509 388h3V402h-3zM514 365h1V401h-1zM513 373h3V389h-3zM518 357h1V375h-1zM517 358h3V375h-3zM526 354h1V378h-1zM525 359h3V371h-3zM538 348h1V385h-1zM537 360h3V381h-3zM542 347h1V361h-1zM541 352h3V360h-3zM546 329h1V359h-1zM545 339h3V358h-3zM550 306h1V343h-1zM549 311h3V340h-3zM558 305h1V332h-1zM557 314h3V324h-3zM562 282h1V332h-1zM561 299h3V315h-3zM566 293h1V301h-1zM565 297h3V300h-3zM598 401h1V443h-1zM597 408h3V420h-3zM606 353h1V413h-1zM605 370h3V411h-3zM610 353h1V383h-1zM609 367h3V372h-3zM614 356h1V370h-1zM613 362h3V369h-3zM618 327h1V358h-1zM617 331h3V357h-3zM622 322h1V340h-1zM621 322h3V332h-3zM626 305h1V351h-1zM625 310h3V323h-3zM630 296h1V315h-1zM629 302h3V310h-3zM634 285h1V303h-1zM633 293h3V302h-3zM638 283h1V294h-1zM637 284h3V293h-3zM646 300h1V337h-1zM645 308h3V333h-3zM650 267h1V313h-1zM649 272h3V309h-3zM662 317h1V329h-1zM661 317h3V329h-3zM674 327h1V377h-1zM673 337h3V363h-3zM678 309h1V332h-1zM677 316h3V331h-3zM682 293h1V323h-1zM681 295h3V317h-3zM686 280h1V296h-1zM685 280h3V296h-3zM690 267h1V290h-1zM689 271h3V284h-3zM698 279h1V304h-1zM697 282h3V303h-3zM702 263h1V297h-1zM701 264h3V285h-3zM710 255h1V270h-1zM709 264h3V266h-3zM714 252h1V275h-1zM713 266h3V267h-3zM746 385h1V417h-1zM745 395h3V409h-3zM774 450h1V515h-1zM773 460h3V509h-3zM790 453h1V514h-1zM789 471h3V506h-3zM798 477h1V522h-1zM797 482h3V519h-3zM806 477h1V486h-1zM805 482h3V485h-3zM814 473h1V508h-1zM813 486h3V494h-3zM818 469h1V492h-1zM817 476h3V489h-3zM830 506h1V515h-1zM829 509h3V514h-3zM834 479h1V557h-1zM833 485h3V556h-3zM862 503h1V564h-1zM861 504h3V540h-3zM866 467h1V508h-1zM865 472h3V505h-3zM870 443h1V475h-1zM869 451h3V474h-3zM874 417h1V463h-1zM873 421h3V453h-3zM882 405h1V434h-1zM881 406h3V429h-3zM894 389h1V422h-1zM893 409h3V420h-3zM898 392h1V419h-1zM897 396h3V409h-3zM930 484h1V499h-1zM929 493h3V495h-3zM934 464h1V499h-1zM933 475h3V494h-3zM942 486h1V515h-1zM941 507h3V512h-3zM946 486h1V517h-1zM945 500h3V507h-3zM966 507h1V559h-1zM965 510h3V554h-3zM970 494h1V521h-1zM969 500h3V511h-3zM974 490h1V501h-1zM973 492h3V499h-3zM986 510h1V535h-1zM985 528h3V531h-3zM990 494h1V544h-1zM989 495h3V528h-3zM994 460h1V497h-1zM993 467h3V496h-3zM1014 441h1V509h-1zM1013 448h3V508h-3zM1018 424h1V452h-1zM1017 431h3V447h-3zM1022 424h1V437h-1zM1021 424h3V431h-3zM1026 401h1V431h-1zM1025 413h3V430h-3zM1042 438h1V461h-1zM1041 444h3V455h-3zM1050 436h1V459h-1zM1049 436h3V451h-3zM1054 407h1V438h-1zM1053 417h3V437h-3zM1058 405h1V428h-1zM1057 409h3V418h-3zM1062 360h1V420h-1zM1061 394h3V409h-3zM1066 367h1V400h-1zM1065 374h3V395h-3zM1114 456h1V492h-1zM1113 458h3V491h-3zM1118 455h1V462h-1zM1117 456h3V459h-3zM1122 452h1V469h-1zM1121 456h3V459h-3zM1126 440h1V482h-1zM1125 446h3V456h-3zM1150 473h1V496h-1zM1149 482h3V493h-3zM1170 454h1V502h-1zM1169 457h3V499h-3zM1174 416h1V459h-1zM1173 437h3V458h-3zM1178 424h1V457h-1zM1177 425h3V437h-3zM1186 420h1V449h-1zM1185 443h3V447h-3zM1190 432h1V445h-1zM1189 439h3V444h-3zM1202 424h1V466h-1zM1201 425h3V462h-3zM1206 377h1V426h-1zM1205 385h3V425h-3zM1218 386h1V412h-1zM1217 389h3V409h-3zM1226 414h1V437h-1zM1225 417h3V423h-3zM1230 398h1V429h-1zM1229 403h3V419h-3zM1234 379h1V407h-1zM1233 382h3V403h-3zM1242 360h1V391h-1zM1241 370h3V390h-3zM1246 359h1V374h-1zM1245 361h3V370h-3zM1254 351h1V369h-1zM1253 352h3V368h-3zM1258 313h1V352h-1zM1257 315h3V351h-3zM1266 300h1V320h-1zM1265 304h3V318h-3zM1270 275h1V307h-1zM1269 277h3V305h-3zM1286 330h1V340h-1zM1285 337h3V339h-3zM1302 401h1V427h-1zM1301 404h3V423h-3z" fill="#ff0000"/>
<path d="M2 132h1v1h-1zM3 133h1v2h-1zM4 135h1v2h-1zM5 137h1v2h-1zM6 139h1v1h-1zM7 140h1v2h-1zM8 142h1v2h-1zM9 144h1v2h-1zM10 146h1v1h-1zM11 147h1v1h-1zM12 148h1v2h-1zM13 150h1v1h-1zM14 151h1v1h-1zM15 152h1v1h-1zM16 153h1v1h-1zM17 154h1v1h-1zM150 154h3v1h-3zM18 155h1v1h-1zM149 155h1v1h-1zM153 155h4v1h-4zM19 156h1v1h-1zM148 156h1v1h-1zM157 156h3v1h-3zM20 157h1v2h-1zM147 157h1v1h-1zM160 157h2v1h-2zM146 158h1v1h-1zM162 158h3v1h-3zM21 159h1v1h-1zM145 159h1v1h-1zM165 159h4v1h-4zM22 160h1v1h-1zM143 160h2v1h-2zM169 160h2v1h-2zM23 161h1v2h-1zM142 161h1v1h-1zM171 161h2v1h-2zM141 162h1v2h-1zM173 162h1v1h-1zM24 163h1v2h-1zM174 163h2v1h-2zM140 164h1v1h-1zM176 164h2v1h-2zM25 165h1v2h-1zM139 165h1v2h-1zM178 165h2v1h-2zM180 166h2v1h-2zM26 167h1v1h-1zM138 167h1v1h-1zM182 167h2v1h-2zM27 168h1v2h-1zM137 168h1v1h-1zM184 168h2v1h-2zM136 169h1v2h-1zM186 169h2v1h-2zM28 170h1v2h-1zM188 170h2v1h-2zM135 171h1v1h-1zM190 171h6v1h-6zM29 172h1v2h-1zM134 172h1v1h-1zM196 172h2v1h-2zM133 173h1v2h-1zM198 173h3v1h-3zM217 173h7v1h-7zM30 174h1v1h-1zM201 174h4v1h-4zM213 174h4v1h-4zM224 174h2v1h-2zM31 175h1v2h-1zM132 175h1v1h-1zM205 175h8v1h-8zM226 175h1v1h-1zM131 176h1v2h-1zM227 176h2v1h-2zM32 177h1v1h-1zM229 177h1v1h-1zM33 178h1v2h-1zM130 178h1v1h-1zM230 178h2v1h-2zM129 179h1v2h-1zM232 179h2v1h-2zM34 180h1v1h-1zM234 180h2v1h-2zM35 181h1v2h-1zM128 181h1v1h-1zM236 181h2v1h-2zM127 182h1v2h-1zM238 182h1v1h-1zM36 183h1v1h-1zM239 183h1v1h-1zM37 184h1v2h-1zM126 184h1v1h-1zM240 184h1v2h-1zM125 185h1v2h-1zM38 186h1v1h-1zM241 186h1v1h-1zM39 187h1v1h-1zM124 187h1v2h-1zM242 187h1v1h-1zM40 188h1v2h-1zM243 188h1v2h-1zM123 189h1v2h-1zM41 190h1v1h-1zM244 190h1v2h-1zM42 191h1v1h-1zM122 191h1v1h-1zM43 192h1v2h-1zM121 192h1v1h-1zM245 192h1v2h-1zM120 193h1v1h-1zM44 194h1v2h-1zM119 194h1v1h-1zM246 194h1v1h-1zM118 195h1v1h-1zM247 195h1v2h-1zM45 196h1v2h-1zM117 196h1v1h-1zM116 197h1v1h-1zM248 197h1v1h-1zM46 198h2v1h-2zM115 198h1v1h-1zM249 198h1v2h-1zM401 198h7v1h-7zM48 199h2v1h-2zM114 199h1v1h-1zM398 199h3v1h-3zM408 199h2v1h-2zM50 200h3v1h-3zM113 200h1v1h-1zM250 200h1v1h-1zM396 200h2v1h-2zM410 200h1v1h-1zM53 201h4v1h-4zM111 201h2v1h-2zM251 201h1v2h-1zM393 201h3v1h-3zM411 201h2v1h-2zM57 202h16v1h-16zM110 202h1v1h-1zM390 202h3v1h-3zM413 202h1v1h-1zM73 203h4v1h-4zM109 203h1v1h-1zM252 203h1v1h-1zM389 203h1v1h-1zM414 203h3v1h-3zM77 204h8v1h-8zM108 204h1v1h-1zM253 204h1v2h-1zM387 204h2v1h-2zM417 204h4v1h-4zM85 205h8v1h-8zM107 205h1v1h-1zM386 205h1v1h-1zM421 205h3v1h-3zM93 206h4v1h-4zM105 206h2v1h-2zM254 206h1v1h-1zM384 206h2v1h-2zM424 206h2v1h-2zM97 207h8v1h-8zM255 207h1v1h-1zM382 207h2v1h-2zM426 207h1v1h-1zM256 208h1v2h-1zM381 208h1v1h-1zM427 208h2v1h-2zM379 209h2v1h-2zM429 209h1v1h-1zM257 210h1v1h-1zM378 210h1v1h-1zM430 210h3v1h-3zM258 211h1v1h-1zM377 211h1v1h-1zM433 211h3v1h-3zM259 212h1v1h-1zM375 212h2v1h-2zM436 212h2v1h-2zM260 213h1v1h-1zM374 213h1v1h-1zM438 213h2v1h-2zM261 214h1v1h-1zM373 214h1v1h-1zM440 214h2v1h-2zM262 215h3v1h-3zM371 215h2v1h-2zM442 215h2v1h-2zM265 216h4v1h-4zM281 216h8v1h-8zM293 216h4v1h-4zM370 216h1v1h-1zM444 216h2v1h-2zM269 217h12v1h-12zM289 217h4v1h-4zM297 217h3v1h-3zM369 217h1v1h-1zM446 217h1v1h-1zM300 218h2v1h-2zM368 218h1v1h-1zM447 218h1v1h-1zM302 219h3v1h-3zM367 219h1v1h-1zM448 219h1v1h-1zM305 220h6v1h-6zM366 220h1v1h-1zM449 220h1v1h-1zM311 221h2v1h-2zM365 221h1v1h-1zM450 221h3v1h-3zM313 222h1v1h-1zM363 222h2v1h-2zM453 222h2v1h-2zM314 223h7v1h-7zM362 223h1v1h-1zM455 223h1v1h-1zM321 224h4v1h-4zM361 224h1v1h-1zM456 224h1v1h-1zM325 225h4v1h-4zM360 225h1v1h-1zM457 225h1v1h-1zM329 226h2v1h-2zM359 226h1v1h-1zM458 226h1v1h-1zM331 227h1v1h-1zM357 227h2v1h-2zM459 227h1v1h-1zM332 228h1v1h-1zM353 228h4v1h-4zM460 228h1v1h-1zM333 229h1v1h-1zM349 229h4v1h-4zM461 229h1v1h-1zM334 230h15v1h-15zM462 230h2v1h-2zM464 231h2v1h-2zM466 232h1v1h-1zM467 233h2v1h-2zM469 234h1v1h-1zM470 235h1v1h-1zM471 236h1v1h-1zM472 237h1v2h-1zM473 239h1v1h-1zM474 240h1v1h-1zM475 241h1v1h-1zM476 242h1v2h-1zM477 244h1v1h-1zM478 245h1v1h-1zM479 246h1v2h-1zM480 248h1v2h-1zM481 250h1v2h-1zM482 252h1v1h-1zM483 253h1v2h-1zM484 255h1v1h-1zM485 256h1v2h-1zM486 258h1v2h-1zM487 260h1v2h-1zM488 262h1v2h-1zM489 264h1v2h-1zM490 266h1v3h-1zM491 269h1v2h-1zM492 271h1v2h-1zM493 273h1v2h-1zM494 275h1v2h-1zM495 277h1v2h-1zM496 279h1v2h-1zM497 281h1v2h-1zM498 283h1v2h-1zM499 285h1v2h-1zM500 287h1v2h-1zM501 289h1v2h-1zM502 291h1v2h-1zM503 293h1v2h-1zM504 295h1v2h-1zM505 297h1v2h-1zM506 299h1v1h-1zM507 300h1v2h-1zM508 302h1v2h-1zM509 304h1v2h-1zM510 306h1v1h-1zM725 306h4v1h-4zM511 307h1v2h-1zM722 307h3v1h-3zM729 307h7v1h-7zM721 308h1v1h-1zM736 308h2v1h-2zM512 309h1v2h-1zM720 309h1v1h-1zM738 309h1v1h-1zM719 310h1v1h-1zM739 310h2v1h-2zM513 311h1v2h-1zM718 311h1v1h-1zM741 311h1v1h-1zM717 312h1v1h-1zM742 312h1v1h-1zM514 313h1v1h-1zM715 313h2v1h-2zM743 313h2v1h-2zM515 314h1v2h-1zM714 314h1v1h-1zM745 314h1v1h-1zM713 315h1v1h-1zM746 315h1v1h-1zM516 316h1v1h-1zM712 316h1v2h-1zM747 316h1v1h-1zM517 317h1v2h-1zM748 317h1v1h-1zM711 318h1v1h-1zM749 318h1v1h-1zM518 319h1v1h-1zM710 319h1v1h-1zM750 319h1v1h-1zM519 320h1v2h-1zM709 320h1v1h-1zM751 320h1v1h-1zM708 321h1v2h-1zM752 321h1v2h-1zM520 322h1v1h-1zM521 323h1v2h-1zM707 323h1v1h-1zM753 323h1v1h-1zM706 324h1v1h-1zM754 324h1v1h-1zM522 325h1v1h-1zM705 325h1v1h-1zM755 325h1v2h-1zM523 326h1v1h-1zM704 326h1v2h-1zM524 327h1v1h-1zM756 327h1v2h-1zM525 328h1v1h-1zM703 328h1v1h-1zM526 329h1v1h-1zM702 329h1v1h-1zM757 329h1v2h-1zM527 330h1v1h-1zM701 330h1v1h-1zM528 331h1v1h-1zM700 331h1v1h-1zM758 331h1v1h-1zM529 332h1v1h-1zM699 332h1v1h-1zM759 332h1v1h-1zM530 333h2v1h-2zM698 333h1v1h-1zM760 333h1v2h-1zM532 334h2v1h-2zM696 334h2v1h-2zM534 335h1v1h-1zM694 335h2v1h-2zM761 335h1v1h-1zM535 336h1v1h-1zM692 336h2v1h-2zM762 336h1v1h-1zM536 337h1v1h-1zM690 337h2v1h-2zM763 337h1v2h-1zM537 338h1v1h-1zM661 338h8v1h-8zM688 338h2v1h-2zM538 339h2v1h-2zM657 339h4v1h-4zM669 339h4v1h-4zM685 339h3v1h-3zM764 339h1v1h-1zM540 340h2v1h-2zM654 340h3v1h-3zM673 340h12v1h-12zM765 340h1v2h-1zM542 341h1v1h-1zM653 341h1v1h-1zM543 342h2v1h-2zM651 342h2v1h-2zM766 342h1v2h-1zM545 343h1v1h-1zM650 343h1v1h-1zM546 344h2v1h-2zM649 344h1v1h-1zM767 344h1v2h-1zM548 345h2v1h-2zM648 345h1v1h-1zM550 346h2v1h-2zM647 346h1v1h-1zM768 346h1v2h-1zM552 347h2v1h-2zM645 347h2v1h-2zM554 348h11v1h-11zM642 348h3v1h-3zM769 348h1v2h-1zM565 349h4v1h-4zM640 349h2v1h-2zM569 350h4v1h-4zM638 350h2v1h-2zM770 350h1v1h-1zM573 351h3v1h-3zM636 351h2v1h-2zM771 351h1v2h-1zM576 352h2v1h-2zM634 352h2v1h-2zM578 353h2v1h-2zM633 353h1v1h-1zM772 353h1v1h-1zM580 354h2v1h-2zM631 354h2v1h-2zM773 354h1v2h-1zM582 355h1v1h-1zM630 355h1v1h-1zM583 356h2v1h-2zM629 356h1v1h-1zM774 356h1v1h-1zM585 357h1v1h-1zM627 357h2v1h-2zM775 357h1v1h-1zM586 358h1v1h-1zM626 358h1v1h-1zM776 358h1v2h-1zM587 359h1v1h-1zM625 359h1v1h-1zM588 360h1v1h-1zM623 360h2v1h-2zM777 360h1v1h-1zM589 361h1v1h-1zM622 361h1v1h-1zM778 361h1v1h-1zM590 362h2v1h-2zM620 362h2v1h-2zM779 362h1v1h-1zM592 363h2v1h-2zM618 363h2v1h-2zM780 363h1v2h-1zM594 364h1v1h-1zM616 364h2v1h-2zM595 365h2v1h-2zM614 365h2v1h-2zM781 365h1v1h-1zM597 366h1v1h-1zM612 366h2v1h-2zM782 366h1v1h-1zM598 367h3v1h-3zM609 367h3v1h-3zM783 367h1v2h-1zM601 368h8v1h-8zM784 369h1v1h-1zM785 370h1v2h-1zM786 372h1v1h-1zM787 373h1v1h-1zM788 374h1v1h-1zM789 375h1v1h-1zM790 376h1v1h-1zM791 377h1v2h-1zM1302 378h1v1h-1zM792 379h1v1h-1zM1300 379h2v1h-2zM793 380h1v2h-1zM1290 380h10v1h-10zM1289 381h1v1h-1zM794 382h1v1h-1zM1288 382h1v1h-1zM795 383h1v1h-1zM1287 383h1v1h-1zM796 384h1v2h-1zM1286 384h1v1h-1zM1285 385h1v1h-1zM797 386h1v1h-1zM1284 386h1v2h-1zM798 387h1v1h-1zM799 388h1v2h-1zM1283 388h1v1h-1zM1282 389h1v1h-1zM800 390h1v1h-1zM1281 390h1v2h-1zM801 391h1v2h-1zM1280 392h1v1h-1zM802 393h1v1h-1zM1279 393h1v2h-1zM803 394h1v2h-1zM1278 395h1v1h-1zM804 396h1v2h-1zM1277 396h1v2h-1zM805 398h1v2h-1zM1276 398h1v1h-1zM1275 399h1v2h-1zM806 400h1v2h-1zM1274 401h1v1h-1zM807 402h1v2h-1zM1273 402h1v2h-1zM808 404h1v2h-1zM1272 404h1v2h-1zM809 406h1v2h-1zM1271 406h1v2h-1zM810 408h1v1h-1zM1270 408h1v1h-1zM811 409h1v2h-1zM1269 409h1v2h-1zM812 411h1v1h-1zM1268 411h1v2h-1zM813 412h1v2h-1zM1267 413h1v2h-1zM814 414h1v1h-1zM815 415h1v2h-1zM1266 415h1v1h-1zM1265 416h1v2h-1zM816 417h1v2h-1zM1264 418h1v1h-1zM817 419h1v2h-1zM1263 419h1v2h-1zM818 421h1v2h-1zM1262 421h1v1h-1zM1261 422h1v1h-1zM819 423h1v2h-1zM1260 423h1v2h-1zM820 425h1v2h-1zM1259 425h1v1h-1zM1258 426h1v1h-1zM821 427h1v2h-1zM1129 427h4v1h-4zM1257 427h1v2h-1zM1126 428h3v1h-3zM1133 428h4v1h-4zM822 429h1v2h-1zM1124 429h2v1h-2zM1137 429h3v1h-3zM1256 429h1v1h-1zM1121 430h3v1h-3zM1140 430h2v1h-2zM1255 430h1v2h-1zM823 431h1v2h-1zM1117 431h4v1h-4zM1142 431h1v1h-1zM1106 432h11v1h-11zM1143 432h2v1h-2zM1254 432h1v1h-1zM824 433h1v2h-1zM1105 433h1v1h-1zM1145 433h1v1h-1zM1253 433h1v1h-1zM1103 434h2v1h-2zM1146 434h2v1h-2zM1252 434h1v1h-1zM825 435h1v2h-1zM1102 435h1v1h-1zM1148 435h2v1h-2zM1251 435h1v1h-1zM1101 436h1v1h-1zM1150 436h2v1h-2zM1250 436h1v1h-1zM826 437h1v2h-1zM1099 437h2v1h-2zM1152 437h2v1h-2zM1249 437h1v1h-1zM1098 438h1v1h-1zM1154 438h3v1h-3zM1247 438h2v1h-2zM827 439h1v2h-1zM1097 439h1v1h-1zM1157 439h3v1h-3zM1246 439h1v1h-1zM1095 440h2v1h-2zM1160 440h2v1h-2zM1245 440h1v1h-1zM828 441h1v2h-1zM1094 441h1v1h-1zM1162 441h2v1h-2zM1243 441h2v1h-2zM1093 442h1v1h-1zM1164 442h2v1h-2zM1242 442h1v1h-1zM829 443h1v2h-1zM1091 443h2v1h-2zM1166 443h3v1h-3zM1241 443h1v1h-1zM1090 444h1v1h-1zM1169 444h8v1h-8zM1239 444h2v1h-2zM830 445h1v1h-1zM1088 445h2v1h-2zM1177 445h4v1h-4zM1238 445h1v1h-1zM831 446h1v2h-1zM1086 446h2v1h-2zM1181 446h2v1h-2zM1236 446h2v1h-2zM1085 447h1v1h-1zM1183 447h2v1h-2zM1234 447h2v1h-2zM832 448h1v2h-1zM1084 448h1v1h-1zM1185 448h1v1h-1zM1233 448h1v1h-1zM1083 449h1v1h-1zM1186 449h2v1h-2zM1231 449h2v1h-2zM833 450h1v2h-1zM1082 450h1v1h-1zM1188 450h2v1h-2zM1230 450h1v1h-1zM1081 451h1v2h-1zM1190 451h2v1h-2zM1229 451h1v1h-1zM834 452h1v1h-1zM1192 452h2v1h-2zM1227 452h2v1h-2zM835 453h1v2h-1zM1080 453h1v1h-1zM1194 453h2v1h-2zM1225 453h2v1h-2zM1079 454h1v2h-1zM1196 454h2v1h-2zM1217 454h8v1h-8zM836 455h1v2h-1zM1198 455h3v1h-3zM1213 455h4v1h-4zM1078 456h1v1h-1zM1201 456h12v1h-12zM837 457h1v2h-1zM1077 457h1v1h-1zM1076 458h1v2h-1zM838 459h1v1h-1zM839 460h1v2h-1zM1075 460h1v1h-1zM1074 461h1v1h-1zM840 462h1v2h-1zM1073 462h1v1h-1zM1072 463h1v1h-1zM841 464h1v2h-1zM1071 464h1v1h-1zM1070 465h1v1h-1zM842 466h1v1h-1zM1069 466h1v1h-1zM843 467h1v2h-1zM1068 467h1v2h-1zM914 468h11v1h-11zM933 468h3v1h-3zM844 469h1v1h-1zM913 469h1v1h-1zM925 469h8v1h-8zM936 469h2v1h-2zM945 469h8v1h-8zM1067 469h1v1h-1zM845 470h1v2h-1zM911 470h2v1h-2zM938 470h7v1h-7zM953 470h3v1h-3zM974 470h10v1h-10zM1066 470h1v1h-1zM910 471h1v1h-1zM956 471h2v1h-2zM972 471h2v1h-2zM984 471h2v1h-2zM1065 471h1v1h-1zM846 472h1v1h-1zM908 472h2v1h-2zM958 472h3v1h-3zM965 472h7v1h-7zM986 472h2v1h-2zM1064 472h1v1h-1zM847 473h1v1h-1zM906 473h2v1h-2zM961 473h4v1h-4zM988 473h2v1h-2zM1063 473h1v1h-1zM848 474h1v2h-1zM905 474h1v1h-1zM990 474h3v1h-3zM1062 474h1v1h-1zM903 475h2v1h-2zM993 475h3v1h-3zM1061 475h1v1h-1zM849 476h1v1h-1zM902 476h1v1h-1zM996 476h2v1h-2zM1060 476h1v1h-1zM850 477h1v1h-1zM900 477h2v1h-2zM998 477h1v1h-1zM1059 477h1v1h-1zM851 478h1v1h-1zM898 478h2v1h-2zM999 478h2v1h-2zM1058 478h1v1h-1zM852 479h1v2h-1zM897 479h1v1h-1zM1001 479h1v1h-1zM1057 479h1v1h-1zM895 480h2v1h-2zM1002 480h1v1h-1zM1055 480h2v1h-2zM853 481h1v1h-1zM894 481h1v1h-1zM1003 481h2v1h-2zM1054 481h1v1h-1zM854 482h1v1h-1zM892 482h2v1h-2zM1005 482h1v1h-1zM1052 482h2v1h-2zM855 483h1v1h-1zM890 483h2v1h-2zM1006 483h1v1h-1zM1050 483h2v1h-2zM856 484h1v2h-1zM889 484h1v1h-1zM1007 484h2v1h-2zM1048 484h2v1h-2zM887 485h2v1h-2zM1009 485h1v1h-1zM1045 485h3v1h-3zM857 486h1v1h-1zM886 486h1v1h-1zM1010 486h3v1h-3zM1042 486h3v1h-3zM858 487h1v1h-1zM884 487h2v1h-2zM1013 487h4v1h-4zM1040 487h2v1h-2zM859 488h2v1h-2zM882 488h2v1h-2zM1017 488h4v1h-4zM1037 488h3v1h-3zM861 489h1v1h-1zM881 489h1v1h-1zM1021 489h16v1h-16zM862 490h1v1h-1zM879 490h2v1h-2zM863 491h2v1h-2zM877 491h2v1h-2zM865 492h1v1h-1zM874 492h3v1h-3zM866 493h3v1h-3zM872 493h2v1h-2zM869 494h3v1h-3z" fill="#0000cd"/>
<path d="M142 143h3v1h-3zM141 144h1v1h-1zM145 144h3v1h-3zM140 145h1v1h-1zM148 145h2v1h-2zM139 146h1v1h-1zM150 146h2v1h-2zM138 147h1v1h-1zM152 147h2v1h-2zM136 148h2v1h-2zM154 148h3v1h-3zM134 149h2v1h-2zM157 149h2v1h-2zM133 150h1v1h-1zM159 150h1v2h-1zM132 151h1v2h-1zM160 152h1v2h-1zM131 153h1v1h-1zM130 154h1v1h-1zM161 154h1v2h-1zM129 155h1v1h-1zM93 156h8v1h-8zM128 156h1v2h-1zM162 156h1v1h-1zM90 157h3v1h-3zM101 157h8v1h-8zM163 157h1v1h-1zM89 158h1v1h-1zM109 158h3v1h-3zM127 158h1v1h-1zM164 158h1v2h-1zM87 159h2v1h-2zM112 159h2v1h-2zM126 159h1v1h-1zM86 160h1v2h-1zM114 160h1v1h-1zM125 160h1v1h-1zM165 160h1v1h-1zM115 161h1v1h-1zM124 161h1v2h-1zM166 161h1v1h-1zM85 162h1v2h-1zM116 162h1v1h-1zM167 162h2v1h-2zM117 163h1v1h-1zM123 163h1v1h-1zM169 163h1v1h-1zM84 164h1v3h-1zM118 164h5v1h-5zM170 164h1v1h-1zM171 165h2v1h-2zM173 166h1v1h-1zM83 167h1v2h-1zM174 167h1v1h-1zM175 168h1v1h-1zM82 169h1v3h-1zM176 169h1v2h-1zM177 171h1v1h-1zM81 172h1v3h-1zM178 172h1v2h-1zM179 174h1v2h-1zM80 175h1v2h-1zM180 176h1v2h-1zM402 176h5v1h-5zM79 177h1v3h-1zM400 177h2v1h-2zM407 177h1v2h-1zM181 178h1v2h-1zM398 178h2v1h-2zM396 179h2v1h-2zM408 179h1v1h-1zM78 180h1v2h-1zM182 180h1v2h-1zM393 180h3v1h-3zM409 180h1v2h-1zM390 181h3v1h-3zM77 182h1v2h-1zM183 182h1v2h-1zM389 182h1v2h-1zM410 182h1v1h-1zM411 183h1v2h-1zM76 184h1v2h-1zM184 184h1v2h-1zM388 184h1v1h-1zM387 185h1v2h-1zM412 185h1v2h-1zM2 186h1v2h-1zM75 186h1v2h-1zM185 186h1v2h-1zM222 187h3v1h-3zM386 187h1v1h-1zM413 187h1v2h-1zM3 188h1v3h-1zM74 188h1v2h-1zM186 188h1v1h-1zM220 188h2v1h-2zM225 188h3v1h-3zM385 188h1v1h-1zM187 189h1v2h-1zM218 189h2v1h-2zM228 189h2v1h-2zM383 189h2v1h-2zM414 189h1v1h-1zM73 190h1v2h-1zM217 190h1v1h-1zM230 190h2v1h-2zM382 190h1v1h-1zM415 190h1v2h-1zM4 191h1v3h-1zM188 191h1v1h-1zM216 191h1v2h-1zM232 191h2v1h-2zM381 191h1v1h-1zM72 192h1v2h-1zM189 192h1v2h-1zM234 192h1v1h-1zM380 192h1v1h-1zM416 192h1v2h-1zM215 193h1v1h-1zM235 193h1v1h-1zM379 193h1v1h-1zM5 194h1v3h-1zM71 194h1v2h-1zM190 194h1v1h-1zM214 194h1v1h-1zM236 194h1v1h-1zM378 194h1v1h-1zM417 194h1v2h-1zM191 195h2v1h-2zM213 195h1v1h-1zM237 195h1v1h-1zM377 195h1v1h-1zM70 196h1v3h-1zM193 196h1v1h-1zM212 196h1v2h-1zM238 196h1v1h-1zM376 196h1v2h-1zM418 196h1v1h-1zM6 197h1v3h-1zM194 197h1v2h-1zM239 197h1v2h-1zM419 197h1v1h-1zM211 198h1v1h-1zM375 198h1v1h-1zM420 198h1v2h-1zM69 199h1v2h-1zM195 199h1v2h-1zM210 199h1v1h-1zM240 199h1v2h-1zM374 199h1v1h-1zM7 200h1v2h-1zM209 200h1v1h-1zM373 200h1v1h-1zM421 200h1v1h-1zM68 201h1v2h-1zM196 201h1v2h-1zM208 201h1v2h-1zM241 201h1v2h-1zM372 201h1v2h-1zM422 201h1v2h-1zM8 202h1v2h-1zM67 203h1v2h-1zM197 203h1v2h-1zM207 203h1v1h-1zM242 203h1v1h-1zM371 203h1v1h-1zM423 203h1v2h-1zM9 204h1v2h-1zM206 204h1v1h-1zM243 204h1v2h-1zM370 204h1v1h-1zM66 205h1v3h-1zM198 205h1v2h-1zM204 205h2v1h-2zM369 205h1v2h-1zM424 205h1v2h-1zM10 206h1v3h-1zM199 206h5v1h-5zM244 206h1v2h-1zM368 207h1v2h-1zM425 207h1v2h-1zM65 208h1v2h-1zM245 208h1v2h-1zM11 209h1v3h-1zM367 209h1v2h-1zM426 209h1v2h-1zM64 210h1v3h-1zM246 210h1v1h-1zM362 210h3v1h-3zM247 211h1v2h-1zM361 211h1v1h-1zM365 211h2v1h-2zM427 211h1v2h-1zM12 212h1v2h-1zM359 212h2v1h-2zM63 213h1v2h-1zM248 213h1v2h-1zM358 213h1v1h-1zM428 213h1v2h-1zM13 214h1v3h-1zM357 214h1v1h-1zM62 215h1v3h-1zM249 215h1v2h-1zM355 215h2v1h-2zM429 215h1v2h-1zM354 216h1v1h-1zM14 217h1v3h-1zM250 217h1v1h-1zM345 217h4v1h-4zM352 217h2v1h-2zM430 217h1v2h-1zM61 218h1v3h-1zM251 218h2v1h-2zM330 218h2v1h-2zM338 218h7v1h-7zM349 218h3v1h-3zM253 219h1v1h-1zM328 219h2v1h-2zM332 219h2v1h-2zM336 219h2v1h-2zM431 219h1v2h-1zM15 220h1v3h-1zM254 220h1v1h-1zM326 220h2v1h-2zM334 220h2v1h-2zM60 221h1v2h-1zM255 221h1v1h-1zM324 221h2v1h-2zM432 221h1v2h-1zM256 222h1v2h-1zM321 222h3v1h-3zM16 223h1v2h-1zM59 223h1v3h-1zM313 223h8v1h-8zM433 223h1v2h-1zM257 224h1v1h-1zM310 224h3v1h-3zM17 225h1v3h-1zM258 225h1v1h-1zM309 225h1v1h-1zM434 225h1v2h-1zM58 226h1v2h-1zM259 226h2v1h-2zM308 226h1v2h-1zM261 227h1v1h-1zM435 227h1v2h-1zM18 228h1v3h-1zM57 228h1v2h-1zM262 228h1v1h-1zM307 228h1v1h-1zM263 229h1v1h-1zM306 229h1v1h-1zM436 229h1v3h-1zM56 230h1v2h-1zM264 230h1v2h-1zM305 230h1v1h-1zM19 231h1v2h-1zM304 231h1v2h-1zM55 232h1v2h-1zM265 232h1v1h-1zM437 232h1v2h-1zM20 233h1v2h-1zM266 233h1v1h-1zM303 233h1v1h-1zM54 234h1v3h-1zM267 234h1v2h-1zM302 234h1v1h-1zM438 234h1v3h-1zM21 235h1v2h-1zM301 235h1v1h-1zM268 236h1v2h-1zM299 236h2v1h-2zM22 237h1v3h-1zM53 237h1v3h-1zM298 237h1v1h-1zM439 237h1v2h-1zM269 238h1v2h-1zM297 238h1v1h-1zM295 239h2v1h-2zM440 239h1v2h-1zM23 240h1v2h-1zM52 240h1v3h-1zM270 240h1v1h-1zM294 240h1v1h-1zM271 241h2v1h-2zM293 241h1v1h-1zM441 241h1v2h-1zM24 242h1v2h-1zM273 242h1v1h-1zM291 242h2v1h-2zM51 243h1v3h-1zM274 243h2v1h-2zM286 243h5v1h-5zM442 243h1v3h-1zM25 244h1v2h-1zM276 244h2v1h-2zM284 244h2v1h-2zM278 245h6v1h-6zM26 246h1v2h-1zM50 246h1v2h-1zM443 246h1v2h-1zM27 248h1v2h-1zM49 248h1v1h-1zM444 248h1v2h-1zM48 249h1v2h-1zM28 250h1v2h-1zM445 250h1v2h-1zM47 251h1v1h-1zM29 252h1v2h-1zM46 252h1v1h-1zM446 252h1v2h-1zM45 253h1v1h-1zM30 254h1v1h-1zM44 254h1v2h-1zM447 254h1v2h-1zM31 255h1v1h-1zM32 256h1v2h-1zM43 256h1v1h-1zM448 256h1v2h-1zM42 257h1v1h-1zM33 258h1v1h-1zM41 258h1v1h-1zM449 258h1v2h-1zM34 259h3v1h-3zM39 259h2v1h-2zM37 260h2v1h-2zM450 260h1v3h-1zM451 263h1v2h-1zM452 265h1v2h-1zM453 267h1v2h-1zM454 269h1v3h-1zM455 272h1v2h-1zM456 274h1v2h-1zM457 276h1v2h-1zM458 278h1v1h-1zM459 279h1v2h-1zM460 281h1v2h-1zM461 283h1v2h-1zM462 285h2v1h-2zM464 286h2v1h-2zM466 287h5v1h-5zM471 288h1v2h-1zM472 290h1v1h-1zM473 291h1v2h-1zM726 292h1v1h-1zM474 293h1v1h-1zM724 293h2v1h-2zM727 293h2v1h-2zM475 294h1v2h-1zM717 294h7v1h-7zM729 294h1v1h-1zM714 295h3v1h-3zM730 295h1v1h-1zM476 296h1v1h-1zM713 296h1v1h-1zM731 296h1v1h-1zM477 297h1v2h-1zM712 297h1v2h-1zM732 297h1v1h-1zM733 298h1v1h-1zM478 299h1v1h-1zM711 299h1v1h-1zM734 299h1v1h-1zM479 300h1v2h-1zM709 300h2v1h-2zM735 300h1v2h-1zM705 301h4v1h-4zM480 302h1v2h-1zM702 302h3v1h-3zM736 302h1v1h-1zM701 303h1v1h-1zM737 303h1v2h-1zM481 304h1v2h-1zM699 304h2v1h-2zM698 305h1v1h-1zM738 305h1v2h-1zM482 306h1v2h-1zM697 306h1v1h-1zM695 307h2v1h-2zM739 307h1v2h-1zM483 308h1v2h-1zM690 308h5v1h-5zM688 309h2v1h-2zM740 309h1v3h-1zM484 310h1v2h-1zM686 310h2v1h-2zM684 311h2v1h-2zM485 312h1v2h-1zM666 312h3v1h-3zM681 312h3v1h-3zM741 312h1v2h-1zM665 313h1v1h-1zM669 313h12v1h-12zM486 314h1v3h-1zM663 314h2v1h-2zM742 314h1v3h-1zM662 315h1v1h-1zM661 316h1v1h-1zM487 317h1v2h-1zM660 317h1v1h-1zM743 317h1v2h-1zM659 318h1v1h-1zM488 319h1v3h-1zM658 319h1v1h-1zM744 319h1v2h-1zM657 320h1v2h-1zM745 321h1v2h-1zM489 322h1v2h-1zM656 322h1v1h-1zM655 323h1v2h-1zM746 323h1v3h-1zM490 324h1v3h-1zM654 325h1v2h-1zM747 326h1v2h-1zM491 327h1v2h-1zM653 327h1v2h-1zM748 328h1v2h-1zM492 329h1v2h-1zM652 329h1v2h-1zM749 330h1v2h-1zM493 331h1v2h-1zM651 331h1v2h-1zM750 332h1v3h-1zM494 333h1v1h-1zM650 333h1v3h-1zM495 334h1v2h-1zM1290 334h2v1h-2zM751 335h1v3h-1zM1288 335h2v1h-2zM1292 335h2v1h-2zM496 336h1v1h-1zM649 336h1v3h-1zM1286 336h2v1h-2zM1294 336h1v1h-1zM497 337h1v2h-1zM1285 337h1v1h-1zM1295 337h2v1h-2zM577 338h4v1h-4zM752 338h1v4h-1zM1284 338h1v1h-1zM1297 338h1v1h-1zM498 339h1v2h-1zM574 339h3v1h-3zM581 339h2v1h-2zM648 339h1v2h-1zM1283 339h1v1h-1zM1298 339h1v1h-1zM572 340h2v1h-2zM583 340h2v1h-2zM1282 340h1v1h-1zM1299 340h2v1h-2zM499 341h1v2h-1zM570 341h2v1h-2zM585 341h1v1h-1zM647 341h1v3h-1zM1281 341h1v2h-1zM1301 341h1v1h-1zM569 342h1v1h-1zM586 342h2v1h-2zM753 342h1v3h-1zM1302 342h1v1h-1zM500 343h1v2h-1zM567 343h2v1h-2zM588 343h2v1h-2zM1280 343h1v1h-1zM566 344h1v1h-1zM590 344h1v1h-1zM646 344h1v2h-1zM1279 344h1v2h-1zM501 345h1v2h-1zM565 345h1v2h-1zM591 345h1v1h-1zM754 345h1v3h-1zM592 346h1v1h-1zM645 346h1v2h-1zM1278 346h1v2h-1zM502 347h1v1h-1zM564 347h1v1h-1zM593 347h1v1h-1zM503 348h1v2h-1zM563 348h1v2h-1zM594 348h1v1h-1zM644 348h1v2h-1zM755 348h1v4h-1zM1277 348h1v2h-1zM595 349h1v1h-1zM504 350h1v2h-1zM562 350h1v1h-1zM596 350h1v1h-1zM643 350h1v2h-1zM1276 350h1v2h-1zM561 351h1v2h-1zM597 351h1v1h-1zM505 352h1v2h-1zM598 352h1v1h-1zM642 352h1v1h-1zM756 352h1v4h-1zM1275 352h1v2h-1zM560 353h1v2h-1zM599 353h1v2h-1zM641 353h1v2h-1zM506 354h1v1h-1zM1274 354h1v2h-1zM507 355h1v2h-1zM559 355h1v2h-1zM600 355h1v1h-1zM640 355h1v1h-1zM601 356h1v2h-1zM639 356h1v2h-1zM757 356h1v4h-1zM1273 356h1v2h-1zM508 357h1v2h-1zM558 357h1v2h-1zM602 358h1v1h-1zM638 358h1v1h-1zM1272 358h1v2h-1zM509 359h1v2h-1zM557 359h1v2h-1zM603 359h1v1h-1zM637 359h1v2h-1zM604 360h1v1h-1zM758 360h1v4h-1zM1271 360h1v2h-1zM510 361h1v1h-1zM556 361h1v1h-1zM605 361h1v1h-1zM636 361h1v1h-1zM511 362h1v1h-1zM555 362h1v2h-1zM606 362h1v1h-1zM635 362h1v2h-1zM1270 362h1v2h-1zM512 363h1v2h-1zM607 363h2v1h-2zM554 364h1v1h-1zM609 364h1v1h-1zM634 364h1v1h-1zM759 364h1v4h-1zM1269 364h1v2h-1zM513 365h1v1h-1zM553 365h1v1h-1zM610 365h1v1h-1zM633 365h1v1h-1zM514 366h1v1h-1zM552 366h1v1h-1zM611 366h1v1h-1zM632 366h1v2h-1zM1268 366h1v2h-1zM515 367h2v1h-2zM551 367h1v1h-1zM612 367h1v1h-1zM517 368h1v1h-1zM550 368h1v1h-1zM613 368h1v1h-1zM631 368h1v1h-1zM760 368h1v4h-1zM1267 368h1v2h-1zM518 369h1v1h-1zM549 369h1v2h-1zM614 369h2v1h-2zM630 369h1v1h-1zM519 370h1v1h-1zM616 370h2v1h-2zM628 370h2v1h-2zM1266 370h1v2h-1zM520 371h1v2h-1zM548 371h1v2h-1zM618 371h2v1h-2zM626 371h2v1h-2zM620 372h2v1h-2zM624 372h2v1h-2zM761 372h1v4h-1zM1265 372h1v2h-1zM521 373h1v1h-1zM547 373h1v2h-1zM622 373h2v1h-2zM522 374h1v1h-1zM1264 374h1v2h-1zM523 375h1v1h-1zM546 375h1v1h-1zM524 376h1v1h-1zM545 376h1v1h-1zM762 376h1v4h-1zM1263 376h1v2h-1zM525 377h1v1h-1zM544 377h1v2h-1zM526 378h2v1h-2zM1262 378h1v2h-1zM528 379h2v1h-2zM543 379h1v1h-1zM530 380h2v1h-2zM542 380h1v1h-1zM763 380h1v4h-1zM1261 380h1v1h-1zM532 381h2v1h-2zM540 381h2v1h-2zM1260 381h1v1h-1zM534 382h6v1h-6zM1259 382h1v1h-1zM1258 383h1v1h-1zM764 384h1v4h-1zM1257 384h1v2h-1zM1256 386h1v2h-1zM765 388h1v4h-1zM1255 388h1v2h-1zM1254 390h1v2h-1zM766 392h1v5h-1zM1253 392h1v2h-1zM1252 394h1v2h-1zM1251 396h1v2h-1zM767 397h1v4h-1zM1250 398h1v2h-1zM1249 400h1v2h-1zM768 401h1v4h-1zM1248 402h1v1h-1zM1247 403h1v2h-1zM769 405h1v4h-1zM1102 405h3v1h-3zM1246 405h1v1h-1zM1100 406h2v1h-2zM1105 406h2v1h-2zM1245 406h1v1h-1zM1097 407h3v1h-3zM1107 407h1v1h-1zM1244 407h1v2h-1zM1094 408h3v1h-3zM1108 408h1v2h-1zM770 409h1v4h-1zM1092 409h2v1h-2zM1243 409h1v1h-1zM1089 410h3v1h-3zM1109 410h1v1h-1zM1242 410h1v1h-1zM1085 411h4v1h-4zM1110 411h1v1h-1zM1241 411h1v2h-1zM1082 412h3v1h-3zM1111 412h2v1h-2zM771 413h1v3h-1zM1080 413h2v1h-2zM1113 413h1v1h-1zM1240 413h1v1h-1zM1078 414h2v1h-2zM1114 414h1v1h-1zM1239 414h1v2h-1zM1076 415h2v1h-2zM1115 415h1v1h-1zM772 416h1v2h-1zM1074 416h2v1h-2zM1116 416h1v2h-1zM1238 416h1v1h-1zM1073 417h1v1h-1zM1237 417h1v1h-1zM773 418h1v3h-1zM1072 418h1v1h-1zM1117 418h1v1h-1zM1236 418h1v1h-1zM1071 419h1v1h-1zM1118 419h1v1h-1zM1235 419h1v1h-1zM1070 420h1v1h-1zM1119 420h1v2h-1zM1234 420h1v1h-1zM774 421h1v3h-1zM1069 421h1v1h-1zM1233 421h1v1h-1zM1068 422h1v2h-1zM1120 422h1v1h-1zM1231 422h2v1h-2zM1121 423h1v2h-1zM1230 423h1v1h-1zM775 424h1v3h-1zM1067 424h1v1h-1zM1228 424h2v1h-2zM1066 425h1v2h-1zM1122 425h1v1h-1zM1226 425h2v1h-2zM918 426h3v1h-3zM1123 426h1v1h-1zM1225 426h1v1h-1zM776 427h1v2h-1zM916 427h2v1h-2zM921 427h2v1h-2zM1065 427h1v2h-1zM1124 427h1v1h-1zM1223 427h2v1h-2zM914 428h2v1h-2zM923 428h1v1h-1zM1125 428h1v1h-1zM1222 428h1v1h-1zM777 429h1v3h-1zM913 429h1v2h-1zM924 429h1v1h-1zM1064 429h1v2h-1zM1126 429h1v1h-1zM1221 429h1v2h-1zM925 430h1v1h-1zM1127 430h1v2h-1zM912 431h1v2h-1zM926 431h1v1h-1zM1063 431h1v2h-1zM1220 431h1v1h-1zM778 432h1v3h-1zM927 432h1v1h-1zM1128 432h1v1h-1zM1219 432h1v2h-1zM911 433h1v2h-1zM928 433h1v2h-1zM1062 433h1v2h-1zM1129 433h1v2h-1zM1218 434h1v1h-1zM779 435h1v2h-1zM910 435h1v1h-1zM929 435h1v1h-1zM1061 435h1v2h-1zM1130 435h1v1h-1zM1217 435h1v2h-1zM909 436h1v2h-1zM930 436h1v1h-1zM1131 436h1v2h-1zM780 437h1v3h-1zM931 437h2v1h-2zM1060 437h1v2h-1zM1216 437h1v2h-1zM908 438h1v2h-1zM933 438h1v1h-1zM1132 438h1v1h-1zM934 439h1v2h-1zM1059 439h1v2h-1zM1133 439h1v2h-1zM1215 439h1v2h-1zM781 440h1v2h-1zM907 440h1v2h-1zM935 441h1v2h-1zM1058 441h1v2h-1zM1134 441h1v1h-1zM1214 441h1v2h-1zM782 442h1v3h-1zM906 442h1v2h-1zM1135 442h1v2h-1zM936 443h1v2h-1zM1057 443h1v2h-1zM1213 443h1v2h-1zM905 444h1v2h-1zM1136 444h1v2h-1zM783 445h1v2h-1zM937 445h1v2h-1zM1056 445h1v1h-1zM1212 445h1v1h-1zM904 446h1v2h-1zM1055 446h1v2h-1zM1137 446h1v2h-1zM1211 446h1v2h-1zM784 447h1v2h-1zM938 447h1v1h-1zM903 448h1v2h-1zM939 448h1v2h-1zM1054 448h1v1h-1zM1138 448h1v1h-1zM1210 448h1v1h-1zM785 449h1v2h-1zM1053 449h1v1h-1zM1139 449h1v2h-1zM1209 449h1v2h-1zM902 450h1v3h-1zM940 450h1v2h-1zM1052 450h1v1h-1zM786 451h1v2h-1zM1051 451h1v1h-1zM1140 451h1v1h-1zM1208 451h1v1h-1zM941 452h1v2h-1zM1050 452h1v1h-1zM1141 452h1v2h-1zM1207 452h1v2h-1zM787 453h1v2h-1zM901 453h1v2h-1zM1048 453h2v1h-2zM942 454h1v1h-1zM1046 454h2v1h-2zM1142 454h1v1h-1zM1206 454h1v1h-1zM788 455h1v2h-1zM900 455h1v2h-1zM943 455h1v1h-1zM1045 455h1v1h-1zM1143 455h1v1h-1zM1205 455h1v2h-1zM944 456h1v2h-1zM1043 456h2v1h-2zM1144 456h1v2h-1zM789 457h1v2h-1zM899 457h1v2h-1zM1042 457h1v1h-1zM1204 457h1v2h-1zM945 458h1v1h-1zM1041 458h1v2h-1zM1145 458h1v1h-1zM790 459h1v2h-1zM898 459h1v3h-1zM946 459h1v1h-1zM1146 459h1v1h-1zM1203 459h1v2h-1zM947 460h1v2h-1zM1040 460h1v1h-1zM1147 460h1v1h-1zM791 461h1v2h-1zM1039 461h1v2h-1zM1148 461h1v1h-1zM1202 461h1v1h-1zM897 462h1v2h-1zM948 462h1v2h-1zM1149 462h1v1h-1zM1201 462h1v1h-1zM792 463h1v3h-1zM1038 463h1v1h-1zM1150 463h1v1h-1zM1200 463h1v2h-1zM896 464h1v2h-1zM949 464h1v2h-1zM1037 464h1v2h-1zM1151 464h1v1h-1zM1152 465h1v2h-1zM1199 465h1v1h-1zM793 466h1v2h-1zM895 466h1v2h-1zM950 466h1v2h-1zM1036 466h1v1h-1zM1197 466h2v1h-2zM1035 467h1v2h-1zM1153 467h1v1h-1zM1194 467h3v1h-3zM794 468h1v2h-1zM894 468h1v2h-1zM951 468h1v2h-1zM1154 468h1v1h-1zM1193 468h1v1h-1zM1034 469h1v1h-1zM1155 469h1v1h-1zM1191 469h2v1h-2zM795 470h1v1h-1zM893 470h1v2h-1zM952 470h1v2h-1zM1033 470h1v2h-1zM1156 470h1v1h-1zM1190 470h1v1h-1zM796 471h1v2h-1zM1157 471h1v1h-1zM1188 471h2v1h-2zM892 472h1v2h-1zM953 472h1v2h-1zM1032 472h1v1h-1zM1158 472h1v1h-1zM1186 472h2v1h-2zM797 473h1v1h-1zM1031 473h1v2h-1zM1159 473h1v1h-1zM1184 473h2v1h-2zM798 474h1v1h-1zM891 474h1v2h-1zM954 474h1v2h-1zM1160 474h1v1h-1zM1178 474h6v1h-6zM799 475h1v2h-1zM1030 475h1v1h-1zM1161 475h1v1h-1zM1176 475h2v1h-2zM890 476h1v1h-1zM955 476h1v3h-1zM1029 476h1v1h-1zM1162 476h3v1h-3zM1173 476h3v1h-3zM800 477h1v1h-1zM889 477h1v1h-1zM1028 477h1v2h-1zM1165 477h8v1h-8zM801 478h1v2h-1zM888 478h1v1h-1zM887 479h1v1h-1zM956 479h1v2h-1zM1027 479h1v1h-1zM802 480h1v1h-1zM886 480h1v1h-1zM1026 480h1v1h-1zM803 481h1v1h-1zM885 481h1v2h-1zM957 481h1v3h-1zM1025 481h1v2h-1zM804 482h1v2h-1zM884 483h1v2h-1zM1024 483h1v2h-1zM805 484h1v1h-1zM958 484h1v3h-1zM806 485h2v1h-2zM883 485h1v2h-1zM1023 485h1v2h-1zM808 486h2v1h-2zM810 487h17v1h-17zM882 487h1v1h-1zM959 487h1v2h-1zM1022 487h1v1h-1zM827 488h1v1h-1zM881 488h1v2h-1zM1021 488h1v2h-1zM828 489h1v1h-1zM960 489h1v3h-1zM829 490h1v1h-1zM880 490h1v2h-1zM1020 490h1v1h-1zM830 491h3v1h-3zM1019 491h1v2h-1zM833 492h3v1h-3zM879 492h1v2h-1zM961 492h1v2h-1zM836 493h2v1h-2zM1018 493h1v2h-1zM838 494h5v1h-5zM878 494h1v2h-1zM962 494h1v2h-1zM843 495h1v1h-1zM1017 495h1v2h-1zM844 496h1v1h-1zM877 496h1v1h-1zM963 496h1v2h-1zM845 497h1v1h-1zM876 497h1v2h-1zM1016 497h1v2h-1zM846 498h3v1h-3zM964 498h1v2h-1zM849 499h2v1h-2zM875 499h1v1h-1zM1015 499h1v2h-1zM851 500h2v1h-2zM874 500h1v1h-1zM965 500h1v2h-1zM853 501h1v1h-1zM873 501h1v1h-1zM1014 501h1v2h-1zM854 502h1v1h-1zM872 502h1v1h-1zM966 502h1v1h-1zM855 503h1v1h-1zM871 503h1v1h-1zM967 503h1v1h-1zM1013 503h1v2h-1zM856 504h1v1h-1zM870 504h1v1h-1zM968 504h1v1h-1zM857 505h1v1h-1zM868 505h2v1h-2zM969 505h1v1h-1zM1012 505h1v2h-1zM858 506h2v1h-2zM866 506h2v1h-2zM970 506h2v1h-2zM860 507h2v1h-2zM864 507h2v1h-2zM972 507h2v1h-2zM1011 507h1v2h-1zM862 508h2v1h-2zM974 508h3v1h-3zM977 509h2v1h-2zM1001 509h4v1h-4zM1009 509h2v1h-2zM979 510h2v1h-2zM998 510h3v1h-3zM1005 510h4v1h-4zM981 511h1v1h-1zM996 511h2v1h-2zM982 512h2v1h-2zM994 512h2v1h-2zM984 513h2v1h-2zM993 513h1v1h-1zM986 514h3v1h-3zM991 514h2v1h-2zM989 515h2v1h-2z" fill="#ff0000"/>
<path d="M142 91h1v4h-1zM141 92h1v2h-1zM140 94h1v2h-1zM143 95h1v6h-1zM139 96h1v2h-1zM138 98h1v2h-1zM137 100h1v3h-1zM144 101h1v7h-1zM136 103h1v2h-1zM135 105h1v3h-1zM134 108h1v3h-1zM145 108h1v6h-1zM133 111h1v4h-1zM146 114h1v7h-1zM132 115h1v3h-1zM131 118h1v4h-1zM147 121h1v6h-1zM130 122h1v3h-1zM129 125h1v3h-1zM148 127h1v6h-1zM128 128h1v4h-1zM70 132h2v1h-2zM127 132h1v3h-1zM69 133h1v2h-1zM72 133h2v1h-2zM149 133h1v6h-1zM74 134h1v1h-1zM68 135h1v1h-1zM75 135h1v2h-1zM126 135h1v4h-1zM67 136h1v2h-1zM76 137h1v2h-1zM66 138h1v2h-1zM77 139h1v2h-1zM125 139h1v5h-1zM150 139h1v7h-1zM65 140h1v3h-1zM78 141h1v1h-1zM79 142h1v1h-1zM64 143h1v4h-1zM80 143h1v1h-1zM81 144h1v1h-1zM124 144h1v6h-1zM82 145h1v1h-1zM83 146h1v2h-1zM151 146h1v7h-1zM63 147h1v3h-1zM84 148h1v1h-1zM85 149h1v2h-1zM62 150h1v3h-1zM123 150h1v5h-1zM86 151h1v2h-1zM61 153h1v3h-1zM87 153h1v2h-1zM152 153h1v6h-1zM88 155h1v2h-1zM122 155h1v4h-1zM386 155h1v1h-1zM60 156h1v2h-1zM385 156h1v2h-1zM387 156h1v1h-1zM89 157h1v2h-1zM388 157h1v2h-1zM59 158h1v3h-1zM384 158h1v2h-1zM90 159h1v1h-1zM121 159h1v4h-1zM153 159h1v7h-1zM389 159h1v1h-1zM91 160h1v2h-1zM383 160h1v2h-1zM390 160h1v1h-1zM58 161h1v3h-1zM391 161h1v1h-1zM92 162h1v2h-1zM382 162h1v1h-1zM392 162h1v2h-1zM120 163h1v4h-1zM380 163h2v1h-2zM57 164h1v4h-1zM93 164h1v2h-1zM378 164h2v1h-2zM393 164h1v1h-1zM377 165h1v2h-1zM394 165h1v1h-1zM94 166h1v1h-1zM154 166h1v6h-1zM395 166h1v1h-1zM95 167h1v1h-1zM119 167h1v4h-1zM376 167h1v2h-1zM396 167h1v1h-1zM56 168h1v4h-1zM96 168h1v2h-1zM397 168h1v1h-1zM375 169h1v2h-1zM398 169h1v1h-1zM97 170h1v1h-1zM399 170h1v2h-1zM98 171h1v2h-1zM118 171h1v2h-1zM374 171h1v2h-1zM55 172h1v4h-1zM155 172h1v6h-1zM400 172h1v2h-1zM99 173h1v3h-1zM117 173h1v1h-1zM218 173h1v1h-1zM373 173h1v2h-1zM115 174h2v1h-2zM217 174h1v2h-1zM219 174h2v1h-2zM401 174h1v2h-1zM114 175h1v1h-1zM221 175h1v1h-1zM372 175h1v2h-1zM54 176h1v3h-1zM100 176h1v4h-1zM113 176h1v1h-1zM216 176h1v2h-1zM222 176h1v1h-1zM402 176h1v2h-1zM112 177h1v2h-1zM223 177h1v2h-1zM371 177h1v2h-1zM156 178h1v5h-1zM215 178h1v2h-1zM403 178h1v3h-1zM53 179h1v4h-1zM111 179h1v1h-1zM224 179h1v2h-1zM370 179h1v3h-1zM101 180h1v3h-1zM110 180h1v1h-1zM214 180h1v2h-1zM109 181h1v1h-1zM194 181h1v2h-1zM225 181h1v2h-1zM404 181h1v3h-1zM108 182h1v1h-1zM195 182h1v1h-1zM212 182h2v1h-2zM369 182h1v3h-1zM52 183h1v3h-1zM102 183h1v2h-1zM107 183h1v1h-1zM157 183h1v6h-1zM193 183h1v3h-1zM196 183h1v2h-1zM210 183h2v1h-2zM226 183h1v3h-1zM103 184h4v1h-4zM209 184h1v1h-1zM405 184h1v3h-1zM197 185h1v1h-1zM208 185h1v2h-1zM368 185h1v4h-1zM51 186h1v4h-1zM192 186h1v3h-1zM198 186h3v1h-3zM227 186h1v4h-1zM201 187h4v1h-4zM207 187h1v1h-1zM406 187h1v4h-1zM205 188h2v1h-2zM158 189h1v6h-1zM191 189h1v3h-1zM367 189h1v3h-1zM50 190h1v5h-1zM228 190h1v4h-1zM407 191h1v5h-1zM190 192h1v2h-1zM366 192h1v2h-1zM189 194h1v1h-1zM229 194h1v4h-1zM365 194h1v1h-1zM49 195h1v7h-1zM159 195h1v7h-1zM188 195h1v2h-1zM364 195h1v2h-1zM408 196h1v5h-1zM187 197h1v1h-1zM363 197h1v1h-1zM186 198h1v1h-1zM230 198h1v4h-1zM362 198h1v1h-1zM185 199h1v2h-1zM361 199h1v2h-1zM184 201h1v2h-1zM360 201h1v2h-1zM409 201h1v5h-1zM48 202h1v8h-1zM160 202h1v8h-1zM231 202h1v4h-1zM183 203h1v2h-1zM359 203h1v2h-1zM182 205h1v3h-1zM358 205h1v2h-1zM232 206h1v4h-1zM357 206h1v1h-1zM410 206h1v5h-1zM354 207h3v1h-3zM181 208h1v3h-1zM354 208h1v1h-1zM353 209h1v3h-1zM47 210h1v7h-1zM161 210h1v7h-1zM233 210h1v4h-1zM180 211h1v4h-1zM310 211h1v2h-1zM411 211h1v6h-1zM311 212h1v2h-1zM352 212h1v2h-1zM309 213h1v2h-1zM234 214h1v3h-1zM312 214h1v2h-1zM351 214h1v3h-1zM179 215h1v3h-1zM308 215h1v2h-1zM342 215h5v1h-5zM313 216h1v2h-1zM322 216h2v1h-2zM340 216h2v1h-2zM347 216h2v1h-2zM46 217h1v6h-1zM162 217h1v5h-1zM235 217h1v3h-1zM307 217h1v2h-1zM321 217h1v1h-1zM324 217h2v1h-2zM338 217h2v1h-2zM349 217h2v1h-2zM412 217h1v6h-1zM178 218h1v2h-1zM314 218h3v1h-3zM319 218h2v1h-2zM326 218h1v1h-1zM337 218h1v2h-1zM350 218h1v1h-1zM294 219h5v1h-5zM306 219h1v2h-1zM317 219h2v1h-2zM327 219h1v1h-1zM177 220h1v2h-1zM236 220h1v3h-1zM293 220h1v1h-1zM299 220h2v1h-2zM328 220h1v1h-1zM336 220h1v2h-1zM292 221h1v1h-1zM301 221h1v1h-1zM304 221h2v1h-2zM329 221h1v1h-1zM163 222h1v2h-1zM176 222h1v1h-1zM291 222h1v1h-1zM302 222h2v1h-2zM330 222h2v1h-2zM335 222h1v2h-1zM45 223h1v5h-1zM175 223h1v2h-1zM237 223h1v3h-1zM290 223h1v1h-1zM332 223h2v1h-2zM413 223h1v6h-1zM164 224h1v2h-1zM289 224h1v1h-1zM334 224h1v1h-1zM173 225h2v1h-2zM288 225h1v1h-1zM165 226h1v2h-1zM170 226h3v1h-3zM238 226h1v3h-1zM287 226h1v1h-1zM168 227h2v1h-2zM286 227h1v1h-1zM44 228h1v6h-1zM166 228h2v1h-2zM285 228h1v1h-1zM239 229h1v4h-1zM283 229h2v1h-2zM414 229h1v5h-1zM282 230h1v1h-1zM281 231h1v1h-1zM279 232h2v1h-2zM240 233h1v4h-1zM278 233h1v1h-1zM43 234h1v5h-1zM277 234h1v1h-1zM415 234h1v4h-1zM276 235h1v2h-1zM241 237h1v4h-1zM275 237h1v1h-1zM274 238h1v1h-1zM416 238h1v5h-1zM42 239h1v5h-1zM273 239h1v2h-1zM242 241h1v3h-1zM272 241h1v2h-1zM271 243h1v2h-1zM417 243h1v4h-1zM41 244h1v4h-1zM243 244h1v3h-1zM270 245h1v1h-1zM269 246h1v1h-1zM244 247h1v2h-1zM267 247h2v1h-2zM418 247h1v5h-1zM40 248h1v4h-1zM266 248h1v2h-1zM245 249h1v3h-1zM265 250h1v2h-1zM39 252h1v4h-1zM246 252h1v2h-1zM264 252h1v2h-1zM419 252h1v4h-1zM247 254h1v1h-1zM263 254h1v2h-1zM248 255h1v2h-1zM2 256h1v2h-1zM38 256h1v4h-1zM262 256h1v3h-1zM420 256h1v4h-1zM249 257h1v1h-1zM3 258h1v2h-1zM250 258h1v1h-1zM251 259h1v2h-1zM261 259h1v2h-1zM4 260h1v2h-1zM37 260h1v3h-1zM421 260h1v4h-1zM252 261h1v1h-1zM260 261h1v3h-1zM5 262h1v2h-1zM253 262h1v2h-1zM36 263h1v4h-1zM6 264h2v1h-2zM18 264h1v1h-1zM254 264h1v1h-1zM259 264h1v2h-1zM422 264h1v2h-1zM8 265h2v1h-2zM17 265h1v1h-1zM19 265h1v1h-1zM255 265h2v1h-2zM434 265h1v1h-1zM10 266h3v1h-3zM15 266h2v1h-2zM20 266h1v2h-1zM257 266h2v1h-2zM423 266h1v2h-1zM433 266h1v1h-1zM435 266h1v2h-1zM13 267h2v1h-2zM35 267h1v3h-1zM258 267h1v1h-1zM432 267h1v2h-1zM21 268h1v1h-1zM424 268h1v2h-1zM436 268h1v2h-1zM22 269h1v1h-1zM431 269h1v1h-1zM714 269h1v1h-1zM23 270h1v1h-1zM34 270h1v3h-1zM425 270h1v2h-1zM430 270h1v1h-1zM437 270h1v2h-1zM713 270h1v1h-1zM715 270h2v1h-2zM24 271h1v2h-1zM428 271h2v1h-2zM711 271h2v1h-2zM717 271h1v1h-1zM426 272h2v1h-2zM438 272h1v1h-1zM710 272h1v1h-1zM718 272h1v2h-1zM25 273h1v1h-1zM33 273h1v2h-1zM439 273h2v1h-2zM708 273h2v1h-2zM26 274h1v1h-1zM441 274h1v1h-1zM706 274h2v1h-2zM719 274h1v3h-1zM27 275h1v2h-1zM32 275h1v3h-1zM442 275h1v1h-1zM704 275h2v1h-2zM443 276h1v2h-1zM702 276h2v1h-2zM28 277h1v2h-1zM701 277h1v2h-1zM720 277h1v3h-1zM31 278h1v2h-1zM444 278h1v2h-1zM29 279h1v2h-1zM700 279h1v1h-1zM30 280h1v2h-1zM445 280h1v2h-1zM699 280h1v2h-1zM721 280h1v3h-1zM446 282h1v1h-1zM698 282h1v1h-1zM447 283h1v2h-1zM697 283h1v2h-1zM722 283h1v3h-1zM448 285h1v2h-1zM696 285h1v2h-1zM723 286h1v4h-1zM449 287h1v2h-1zM695 287h1v2h-1zM450 289h1v1h-1zM694 289h1v2h-1zM451 290h1v2h-1zM724 290h1v3h-1zM693 291h1v3h-1zM452 292h1v1h-1zM453 293h1v2h-1zM725 293h1v4h-1zM692 294h1v2h-1zM454 295h5v1h-5zM459 296h1v2h-1zM654 296h1v2h-1zM691 296h1v3h-1zM652 297h2v1h-2zM726 297h1v4h-1zM460 298h1v2h-1zM650 298h2v1h-2zM655 298h1v2h-1zM1278 298h1v1h-1zM649 299h1v2h-1zM690 299h1v4h-1zM1277 299h1v1h-1zM1279 299h2v1h-2zM461 300h1v2h-1zM656 300h1v2h-1zM1275 300h2v1h-2zM1281 300h1v1h-1zM648 301h1v1h-1zM727 301h1v6h-1zM1274 301h1v2h-1zM1282 301h1v1h-1zM462 302h1v1h-1zM638 302h2v1h-2zM647 302h1v2h-1zM657 302h1v2h-1zM662 302h1v1h-1zM1283 302h1v2h-1zM463 303h2v1h-2zM638 303h1v1h-1zM640 303h2v1h-2zM661 303h1v1h-1zM663 303h1v1h-1zM689 303h1v4h-1zM1273 303h1v3h-1zM465 304h1v1h-1zM469 304h2v1h-2zM637 304h1v2h-1zM642 304h5v1h-5zM658 304h3v1h-3zM664 304h1v1h-1zM1284 304h1v2h-1zM466 305h3v1h-3zM470 305h1v1h-1zM658 305h1v1h-1zM665 305h1v1h-1zM471 306h1v2h-1zM636 306h1v3h-1zM666 306h1v3h-1zM1272 306h1v4h-1zM1285 306h1v2h-1zM688 307h1v5h-1zM728 307h1v6h-1zM472 308h1v3h-1zM1286 308h1v3h-1zM566 309h1v2h-1zM635 309h1v2h-1zM667 309h1v4h-1zM567 310h1v1h-1zM1271 310h1v3h-1zM473 311h1v2h-1zM565 311h1v2h-1zM568 311h1v1h-1zM634 311h1v3h-1zM1287 311h1v4h-1zM569 312h1v1h-1zM687 312h1v4h-1zM474 313h1v3h-1zM564 313h1v2h-1zM570 313h1v1h-1zM668 313h1v5h-1zM729 313h1v6h-1zM1270 313h1v4h-1zM571 314h2v1h-2zM633 314h1v3h-1zM563 315h1v2h-1zM573 315h1v1h-1zM1288 315h1v4h-1zM475 316h1v2h-1zM574 316h1v1h-1zM686 316h1v4h-1zM562 317h1v3h-1zM575 317h1v2h-1zM632 317h1v4h-1zM1269 317h1v4h-1zM476 318h1v3h-1zM669 318h1v4h-1zM576 319h1v2h-1zM730 319h1v5h-1zM1289 319h1v4h-1zM561 320h1v2h-1zM685 320h1v2h-1zM477 321h1v2h-1zM577 321h1v2h-1zM631 321h1v3h-1zM1268 321h1v5h-1zM560 322h1v3h-1zM670 322h1v4h-1zM684 322h1v3h-1zM478 323h1v3h-1zM578 323h1v3h-1zM1290 323h1v5h-1zM630 324h1v3h-1zM731 324h1v6h-1zM559 325h1v2h-1zM683 325h1v2h-1zM479 326h1v2h-1zM579 326h1v4h-1zM671 326h1v3h-1zM1267 326h1v4h-1zM558 327h1v3h-1zM629 327h1v3h-1zM682 327h1v2h-1zM480 328h1v2h-1zM1291 328h1v6h-1zM672 329h1v2h-1zM681 329h1v1h-1zM481 330h1v2h-1zM557 330h1v2h-1zM580 330h1v4h-1zM628 330h1v4h-1zM680 330h1v1h-1zM732 330h1v6h-1zM1266 330h1v4h-1zM673 331h1v3h-1zM679 331h1v1h-1zM482 332h1v3h-1zM556 332h1v2h-1zM678 332h1v1h-1zM677 333h1v1h-1zM555 334h1v2h-1zM581 334h1v4h-1zM627 334h1v3h-1zM674 334h3v1h-3zM1265 334h1v3h-1zM1292 334h1v6h-1zM483 335h1v4h-1zM674 335h1v1h-1zM554 336h1v3h-1zM733 336h1v6h-1zM626 337h1v3h-1zM1264 337h1v2h-1zM582 338h1v4h-1zM484 339h1v4h-1zM553 339h1v3h-1zM1263 339h1v3h-1zM625 340h1v3h-1zM1293 340h1v6h-1zM552 342h1v2h-1zM583 342h1v6h-1zM734 342h1v4h-1zM1262 342h1v3h-1zM485 343h1v4h-1zM624 343h1v3h-1zM551 344h1v3h-1zM1261 345h1v2h-1zM623 346h1v3h-1zM735 346h1v4h-1zM1294 346h1v7h-1zM486 347h1v4h-1zM550 347h1v3h-1zM1260 347h1v3h-1zM584 348h1v6h-1zM622 349h1v4h-1zM549 350h1v3h-1zM736 350h1v4h-1zM1259 350h1v2h-1zM487 351h1v5h-1zM1258 352h1v3h-1zM548 353h1v4h-1zM621 353h1v5h-1zM1295 353h1v6h-1zM585 354h1v6h-1zM737 354h1v4h-1zM1257 355h1v4h-1zM488 356h1v6h-1zM547 357h1v3h-1zM620 358h1v4h-1zM738 358h1v4h-1zM1256 359h1v3h-1zM1296 359h1v6h-1zM546 360h1v2h-1zM586 360h1v5h-1zM489 362h1v5h-1zM545 362h1v1h-1zM619 362h1v5h-1zM739 362h1v4h-1zM1255 362h1v4h-1zM544 363h1v1h-1zM543 364h1v1h-1zM542 365h1v1h-1zM587 365h1v4h-1zM1297 365h1v6h-1zM541 366h1v1h-1zM740 366h1v5h-1zM1254 366h1v2h-1zM490 367h1v4h-1zM540 367h1v1h-1zM618 367h1v4h-1zM530 368h7v1h-7zM539 368h1v1h-1zM1253 368h1v2h-1zM528 369h2v1h-2zM537 369h2v1h-2zM588 369h1v4h-1zM526 370h2v1h-2zM1252 370h1v1h-1zM491 371h1v4h-1zM525 371h1v2h-1zM617 371h1v4h-1zM741 371h1v4h-1zM1251 371h1v2h-1zM1298 371h1v5h-1zM524 373h1v2h-1zM589 373h1v4h-1zM1250 373h1v1h-1zM1249 374h1v2h-1zM492 375h1v3h-1zM523 375h1v2h-1zM616 375h1v4h-1zM742 375h1v4h-1zM1248 376h1v2h-1zM1299 376h1v3h-1zM522 377h1v2h-1zM590 377h1v4h-1zM493 378h1v4h-1zM1247 378h1v2h-1zM521 379h1v2h-1zM615 379h1v4h-1zM743 379h1v3h-1zM1300 379h1v4h-1zM1246 380h1v2h-1zM520 381h1v2h-1zM591 381h1v4h-1zM494 382h1v2h-1zM744 382h1v2h-1zM1245 382h1v3h-1zM519 383h1v2h-1zM614 383h1v4h-1zM1081 383h2v1h-2zM1301 383h1v3h-1zM495 384h1v1h-1zM745 384h1v3h-1zM1078 384h3v1h-3zM1083 384h1v1h-1zM496 385h1v2h-1zM518 385h1v1h-1zM592 385h1v4h-1zM1077 385h1v1h-1zM1084 385h1v2h-1zM1244 385h1v3h-1zM517 386h1v1h-1zM1076 386h1v1h-1zM1302 386h1v2h-1zM497 387h1v1h-1zM515 387h2v1h-2zM613 387h1v3h-1zM746 387h1v3h-1zM1075 387h1v1h-1zM1085 387h1v1h-1zM498 388h1v2h-1zM514 388h1v1h-1zM1074 388h1v1h-1zM1086 388h1v2h-1zM1243 388h1v3h-1zM513 389h1v2h-1zM593 389h1v4h-1zM1073 389h1v2h-1zM499 390h1v2h-1zM612 390h1v2h-1zM747 390h1v2h-1zM1087 390h1v2h-1zM512 391h1v2h-1zM1072 391h1v2h-1zM1242 391h1v3h-1zM500 392h1v2h-1zM611 392h1v3h-1zM748 392h1v2h-1zM1088 392h1v2h-1zM511 393h1v2h-1zM594 393h1v3h-1zM1071 393h1v2h-1zM501 394h1v2h-1zM749 394h1v2h-1zM1089 394h1v2h-1zM1241 394h1v2h-1zM510 395h1v2h-1zM610 395h1v3h-1zM1070 395h1v2h-1zM502 396h1v2h-1zM595 396h1v3h-1zM750 396h1v4h-1zM1090 396h1v2h-1zM1240 396h1v3h-1zM509 397h1v1h-1zM1069 397h1v3h-1zM503 398h2v1h-2zM508 398h1v1h-1zM609 398h1v2h-1zM1091 398h1v2h-1zM505 399h1v1h-1zM507 399h1v1h-1zM596 399h1v3h-1zM1239 399h1v2h-1zM506 400h1v1h-1zM608 400h1v3h-1zM751 400h1v4h-1zM1068 400h1v2h-1zM1092 400h1v2h-1zM1238 401h1v2h-1zM597 402h1v3h-1zM1067 402h1v3h-1zM1093 402h1v2h-1zM1237 402h1v1h-1zM607 403h1v2h-1zM1221 403h2v1h-2zM1234 403h3v1h-3zM752 404h1v4h-1zM1094 404h1v1h-1zM1218 404h3v1h-3zM1223 404h1v2h-1zM1233 404h1v1h-1zM598 405h1v3h-1zM606 405h1v2h-1zM1066 405h1v3h-1zM1095 405h1v2h-1zM1218 405h1v1h-1zM1232 405h1v2h-1zM1217 406h1v4h-1zM1224 406h1v1h-1zM605 407h1v2h-1zM1096 407h1v2h-1zM1225 407h1v2h-1zM1231 407h1v1h-1zM599 408h1v2h-1zM753 408h1v4h-1zM901 408h10v1h-10zM1065 408h1v4h-1zM1229 408h2v1h-2zM604 409h1v2h-1zM898 409h3v1h-3zM911 409h1v1h-1zM1097 409h1v2h-1zM1226 409h3v1h-3zM600 410h1v2h-1zM897 410h1v2h-1zM912 410h1v2h-1zM1216 410h1v4h-1zM603 411h1v2h-1zM1098 411h1v2h-1zM601 412h1v2h-1zM754 412h1v5h-1zM896 412h1v1h-1zM913 412h1v1h-1zM1064 412h1v4h-1zM602 413h1v2h-1zM895 413h1v2h-1zM914 413h1v3h-1zM1099 413h1v2h-1zM1215 414h1v4h-1zM894 415h1v1h-1zM1100 415h1v2h-1zM893 416h1v1h-1zM915 416h1v4h-1zM1063 416h1v4h-1zM755 417h1v5h-1zM891 417h2v1h-2zM1101 417h1v2h-1zM890 418h1v1h-1zM1214 418h1v2h-1zM889 419h1v2h-1zM1102 419h1v3h-1zM916 420h1v4h-1zM1062 420h1v4h-1zM1213 420h1v2h-1zM888 421h1v1h-1zM756 422h1v4h-1zM887 422h1v2h-1zM1103 422h1v2h-1zM1212 422h1v2h-1zM1034 423h1v1h-1zM886 424h1v2h-1zM917 424h1v4h-1zM1033 424h1v1h-1zM1035 424h1v1h-1zM1061 424h1v2h-1zM1104 424h1v2h-1zM1211 424h1v2h-1zM1031 425h2v1h-2zM1036 425h1v2h-1zM757 426h1v5h-1zM885 426h1v3h-1zM1030 426h1v3h-1zM1060 426h1v3h-1zM1105 426h1v2h-1zM1210 426h1v1h-1zM1037 427h1v1h-1zM1209 427h1v2h-1zM918 428h1v4h-1zM1038 428h1v1h-1zM1106 428h1v3h-1zM884 429h1v3h-1zM1029 429h1v5h-1zM1039 429h1v1h-1zM1059 429h1v2h-1zM1208 429h1v1h-1zM1040 430h1v1h-1zM1207 430h1v2h-1zM758 431h1v4h-1zM1041 431h1v1h-1zM1058 431h1v3h-1zM1107 431h1v4h-1zM883 432h1v3h-1zM919 432h1v4h-1zM1042 432h1v2h-1zM1206 432h1v2h-1zM1028 434h1v4h-1zM1043 434h1v2h-1zM1057 434h1v2h-1zM1205 434h1v3h-1zM759 435h1v4h-1zM882 435h1v4h-1zM1108 435h1v4h-1zM920 436h1v5h-1zM1044 436h1v2h-1zM1056 436h1v2h-1zM1204 437h1v2h-1zM1027 438h1v5h-1zM1045 438h1v2h-1zM1055 438h1v2h-1zM1190 438h2v1h-2zM760 439h1v4h-1zM881 439h1v5h-1zM1109 439h1v4h-1zM1189 439h1v1h-1zM1192 439h2v1h-2zM1203 439h1v3h-1zM1046 440h1v1h-1zM1054 440h1v2h-1zM1188 440h1v1h-1zM1194 440h1v1h-1zM921 441h1v4h-1zM1047 441h1v1h-1zM1187 441h1v1h-1zM1195 441h1v2h-1zM1048 442h1v1h-1zM1053 442h1v1h-1zM1186 442h1v2h-1zM1202 442h1v2h-1zM761 443h1v4h-1zM1026 443h1v5h-1zM1049 443h1v1h-1zM1051 443h2v1h-2zM1110 443h1v2h-1zM1196 443h1v2h-1zM880 444h1v4h-1zM1050 444h1v1h-1zM1185 444h1v3h-1zM1201 444h1v1h-1zM922 445h1v5h-1zM1111 445h1v2h-1zM1197 445h1v2h-1zM1200 445h1v1h-1zM1199 446h1v1h-1zM762 447h1v4h-1zM1112 447h1v1h-1zM1184 447h1v2h-1zM1198 447h1v1h-1zM879 448h1v5h-1zM1025 448h1v4h-1zM1113 448h1v2h-1zM1183 449h1v3h-1zM923 450h1v4h-1zM1114 450h1v1h-1zM763 451h1v5h-1zM1115 451h1v2h-1zM1024 452h1v5h-1zM1182 452h1v3h-1zM878 453h1v5h-1zM1116 453h1v1h-1zM924 454h1v4h-1zM1117 454h1v2h-1zM1181 455h1v3h-1zM764 456h1v5h-1zM1118 456h1v1h-1zM1130 456h1v1h-1zM1023 457h1v4h-1zM1119 457h1v1h-1zM1129 457h1v1h-1zM1131 457h2v1h-2zM877 458h1v6h-1zM925 458h1v4h-1zM1120 458h1v2h-1zM1128 458h1v2h-1zM1133 458h1v1h-1zM1180 458h1v2h-1zM1134 459h1v1h-1zM1121 460h1v1h-1zM1127 460h1v1h-1zM1135 460h1v1h-1zM1179 460h1v3h-1zM765 461h1v5h-1zM1022 461h1v4h-1zM1122 461h5v1h-5zM1136 461h1v2h-1zM926 462h1v4h-1zM1137 463h1v1h-1zM1178 463h1v3h-1zM876 464h1v6h-1zM1138 464h1v1h-1zM1021 465h1v4h-1zM1139 465h1v2h-1zM766 466h1v5h-1zM927 466h1v4h-1zM1177 466h1v4h-1zM1140 467h1v1h-1zM1141 468h1v2h-1zM1020 469h1v4h-1zM875 470h1v6h-1zM928 470h1v4h-1zM1142 470h1v2h-1zM1176 470h1v4h-1zM767 471h1v4h-1zM1143 472h1v2h-1zM1019 473h1v4h-1zM929 474h1v4h-1zM1144 474h1v2h-1zM1175 474h1v4h-1zM768 475h1v5h-1zM874 476h1v5h-1zM1145 476h1v2h-1zM790 477h1v2h-1zM1018 477h1v2h-1zM789 478h1v2h-1zM930 478h1v3h-1zM1146 478h1v2h-1zM1174 478h1v3h-1zM791 479h1v3h-1zM1017 479h1v2h-1zM769 480h1v4h-1zM788 480h1v2h-1zM1147 480h2v1h-2zM873 481h1v5h-1zM931 481h1v2h-1zM1016 481h1v2h-1zM1149 481h1v1h-1zM1173 481h1v2h-1zM787 482h1v2h-1zM792 482h1v3h-1zM1150 482h1v1h-1zM782 483h2v1h-2zM932 483h1v2h-1zM1015 483h1v2h-1zM1151 483h2v1h-2zM1172 483h1v3h-1zM770 484h1v3h-1zM780 484h2v1h-2zM784 484h3v1h-3zM818 484h1v1h-1zM1153 484h1v1h-1zM773 485h7v1h-7zM786 485h1v1h-1zM793 485h1v3h-1zM816 485h2v1h-2zM819 485h2v1h-2zM933 485h1v2h-1zM1014 485h1v1h-1zM1154 485h1v1h-1zM771 486h2v1h-2zM814 486h2v1h-2zM821 486h1v1h-1zM872 486h1v6h-1zM1013 486h1v1h-1zM1155 486h1v1h-1zM1171 486h1v2h-1zM813 487h1v2h-1zM822 487h1v1h-1zM934 487h1v2h-1zM1006 487h2v1h-2zM1012 487h1v1h-1zM1156 487h1v1h-1zM794 488h1v2h-1zM806 488h1v1h-1zM823 488h1v2h-1zM1005 488h1v1h-1zM1008 488h2v1h-2zM1011 488h1v1h-1zM1157 488h1v1h-1zM1170 488h1v2h-1zM795 489h1v1h-1zM805 489h1v1h-1zM807 489h1v1h-1zM812 489h1v1h-1zM935 489h1v2h-1zM1004 489h1v1h-1zM1010 489h1v1h-1zM1158 489h1v1h-1zM796 490h2v1h-2zM804 490h1v1h-1zM808 490h1v1h-1zM811 490h1v2h-1zM824 490h1v2h-1zM1003 490h1v1h-1zM1159 490h2v1h-2zM1169 490h1v1h-1zM798 491h3v1h-3zM803 491h1v1h-1zM809 491h1v1h-1zM936 491h1v2h-1zM1002 491h1v1h-1zM1161 491h1v1h-1zM1168 491h1v2h-1zM801 492h2v1h-2zM810 492h1v1h-1zM825 492h1v2h-1zM871 492h1v5h-1zM1001 492h1v2h-1zM1162 492h2v1h-2zM937 493h1v2h-1zM1164 493h2v1h-2zM1167 493h1v1h-1zM826 494h1v1h-1zM1000 494h1v2h-1zM1166 494h1v1h-1zM827 495h2v1h-2zM938 495h2v1h-2zM829 496h1v1h-1zM940 496h2v1h-2zM999 496h1v2h-1zM830 497h5v1h-5zM870 497h1v4h-1zM942 497h3v1h-3zM835 498h1v2h-1zM945 498h4v1h-4zM998 498h1v2h-1zM949 499h2v1h-2zM836 500h1v1h-1zM950 500h1v1h-1zM997 500h1v2h-1zM837 501h1v2h-1zM869 501h1v4h-1zM951 501h1v2h-1zM996 502h1v3h-1zM838 503h1v1h-1zM952 503h1v2h-1zM839 504h2v1h-2zM841 505h1v1h-1zM868 505h1v4h-1zM953 505h1v2h-1zM995 505h1v2h-1zM842 506h2v1h-2zM844 507h2v1h-2zM954 507h1v2h-1zM994 507h1v2h-1zM846 508h1v1h-1zM847 509h1v1h-1zM867 509h1v4h-1zM955 509h1v2h-1zM993 509h1v1h-1zM848 510h1v1h-1zM982 510h1v1h-1zM992 510h1v2h-1zM849 511h1v1h-1zM956 511h1v2h-1zM981 511h1v1h-1zM983 511h1v1h-1zM850 512h1v2h-1zM980 512h1v2h-1zM984 512h1v1h-1zM991 512h1v1h-1zM866 513h1v4h-1zM957 513h1v2h-1zM985 513h1v1h-1zM989 513h2v1h-2zM851 514h1v2h-1zM979 514h1v1h-1zM986 514h3v1h-3zM958 515h1v2h-1zM978 515h1v1h-1zM852 516h1v2h-1zM977 516h1v2h-1zM865 517h1v3h-1zM959 517h1v2h-1zM853 518h1v2h-1zM976 518h1v2h-1zM960 519h1v3h-1zM854 520h1v2h-1zM864 520h1v2h-1zM975 520h1v2h-1zM855 522h1v2h-1zM863 522h1v3h-1zM961 522h1v2h-1zM974 522h1v1h-1zM973 523h1v1h-1zM856 524h1v2h-1zM962 524h1v2h-1zM972 524h1v1h-1zM862 525h1v2h-1zM963 525h1v1h-1zM971 525h1v1h-1zM857 526h1v2h-1zM964 526h2v1h-2zM969 526h2v1h-2zM860 527h2v1h-2zM966 527h3v1h-3zM858 528h2v1h-2z" fill="#ffa500"/>
<rect x="2" y="213" width="1637" height="2" fill="#ff0000"/>
<rect x="2" y="298" width="1637" height="2" fill="#ff0000"/>
<rect x="1632" y="296" width="6" height="6" fill="#ff0000"/><rect x="1634" y="298" width="2" height="2" fill="#fff"/>
<rect x="1" y="296" width="6" height="6" fill="#ff0000"/><rect x="3" y="298" width="2" height="2" fill="#fff"/>
<rect x="2" y="382" width="1637" height="2" fill="#00ff00"/>
<rect x="1632" y="380" width="6" height="6" fill="#00ff00"/><rect x="1634" y="382" width="2" height="2" fill="#fff"/>
<rect x="1" y="380" width="6" height="6" fill="#00ff00"/><rect x="3" y="382" width="2" height="2" fill="#fff"/>
<rect x="2" y="467" width="1637" height="2" fill="#0000ff"/>
<rect x="1632" y="465" width="6" height="6" fill="#0000ff"/><rect x="1634" y="467" width="2" height="2" fill="#fff"/>
<rect x="1" y="465" width="6" height="6" fill="#0000ff"/><rect x="3" y="467" width="2" height="2" fill="#fff"/>
<rect x="2" y="576" width="1637" height="2" fill="#0000ff"/>
<rect x="1632" y="574" width="6" height="6" fill="#0000ff"/><rect x="1634" y="576" width="2" height="2" fill="#fff"/>
<rect x="1" y="574" width="6" height="6" fill="#0000ff"/><rect x="3" y="576" width="2" height="2" fill="#fff"/>
<path d="M1304 25h10l-5 5z" fill="#c0c0c0"/>
</svg>
<div class="ax" style="top:22px"><span class="t">0.73240</span></div>
<div class="ax" style="top:55px"><span class="t">0.72850</span></div>
<div class="ax" style="top:88px"><span class="t">0.72460</span></div>
<div class="ax" style="top:121px"><span class="t">0.72060</span></div>
<div class="ax" style="top:154px"><span class="t">0.71670</span></div>
<div class="ax" style="top:187px"><span class="t">0.71280</span></div>
<div class="ax" style="top:220px"><span class="t">0.70890</span></div>
<div class="ax" style="top:253px"><span class="t">0.70490</span></div>
<div class="ax" style="top:286px"><span class="t">0.70100</span></div>
<div class="ax" style="top:319px"><span class="t">0.69710</span></div>
<div class="ax" style="top:352px"><span class="t">0.69320</span></div>
<div class="ax" style="top:385px"><span class="t">0.68920</span></div>
<div class="ax" style="top:418px"><span class="t">0.68530</span></div>
<div class="ax" style="top:451px"><span class="t">0.68140</span></div>
<div class="ax" style="top:484px"><span class="t">0.67750</span></div>
<div class="ax" style="top:517px"><span class="t">0.67350</span></div>
<div class="ax" style="top:550px"><span class="t">0.66960</span></div>
<div class="ax" style="top:583px"><span class="t">0.66570</span></div>
<div class="axb" style="top:208px;background:#ff0000;color:#fff"><span class="t">0.71016</span></div>
<div class="axb" style="top:293px;background:#ff0000;color:#fff"><span class="t">0.70007</span></div>
<div class="axb" style="top:377px;background:#00ff00;color:#fff"><span class="t">0.69010</span></div>
<div class="axb" style="top:399px;background:#000000;color:#fff"><span class="t">0.68760</span></div>
<div class="axb" style="top:462px;background:#0000ff;color:#fff"><span class="t">0.68000</span></div>
<div class="axb" style="top:571px;background:#0000ff;color:#fff"><span class="t">0.66706</span></div>
<div class="ax" style="top:595px;left:1642px"><span class="t">100</span></div>
<div class="ax" style="top:620px;left:1642px"><span class="t">70</span></div>
<div class="ax" style="top:661px;left:1642px"><span class="t">30</span></div>
<div class="ax" style="top:685px;left:1642px"><span class="t">0</span></div>
<div class="ax" style="top:701px;left:1642px"><span class="t">0.005076</span></div>
<div class="ax" style="top:741px;left:1642px"><span class="t">0.00</span></div>
<div class="ax" style="top:790px;left:1642px"><span class="t">-0.006148</span></div>
<div class="dt" style="left:1px"><span class="t">26 Dec 2018</span></div>
<div class="dt" style="left:65px"><span class="t">14 Jan 2019</span></div>
<div class="dt" style="left:129px"><span class="t">1 Feb 2019</span></div>
<div class="dt" style="left:193px"><span class="t">20 Feb 2019</span></div>
<div class="dt" style="left:257px"><span class="t">11 Mar 2019</span></div>
<div class="dt" style="left:321px"><span class="t">29 Mar 2019</span></div>
<div class="dt" style="left:385px"><span class="t">17 Apr 2019</span></div>
<div class="dt" style="left:449px"><span class="t">6 May 2019</span></div>
<div class="dt" style="left:513px"><span class="t">24 May 2019</span></div>
<div class="dt" style="left:577px"><span class="t">12 Jun 2019</span></div>
<div class="dt" style="left:641px"><span class="t">1 Jul 2019</span></div>
<div class="dt" style="left:705px"><span class="t">19 Jul 2019</span></div>
<div class="dt" style="left:769px"><span class="t">7 Aug 2019</span></div>
<div class="dt" style="left:833px"><span class="t">26 Aug 2019</span></div>
<div class="dt" style="left:897px"><span class="t">13 Sep 2019</span></div>
<div class="dt" style="left:961px"><span class="t">2 Oct 2019</span></div>
<div class="dt" style="left:1025px"><span class="t">21 Oct 2019</span></div>
<div class="dt" style="left:1089px"><span class="t">8 Nov 2019</span></div>
<div class="dt" style="left:1153px"><span class="t">27 Nov 2019</span></div>
<div class="dt" style="left:1217px"><span class="t">16 Dec 2019</span></div>
<div class="dt" style="left:1281px"><span class="t">3 Jan 2020</span></div>
<div class="abs" style="left:5px;top:31px;width:0;height:0;border-left:3.5px solid transparent;border-right:3.5px solid transparent;border-top:4px solid #000"></div>
<div class="lbl" style="left:18px;top:27px;letter-spacing:0.1px"><span class="t">AUDUSD,Daily</span></div>
<div class="lbl" style="left:89px;top:27px;letter-spacing:-0.2px"><span class="t">0.68541 0.68795 0.68481 0.68760</span></div>
<div class="lbl" style="left:6px;top:597px"><span class="t">RSI(14) 43.8902</span></div>
<div class="lbl" style="left:6px;top:703px"><span class="t">MACD(12,26,9) 0.000908 0.003257</span></div>
<div class="abs" style="left:0;top:823px;width:1679px;height:1px;background:#e3e3e3"></div>
<div class="abs" style="left:0;top:825px;width:1679px;height:20px;background:#f0f0f0"></div>
<div class="abs" style="left:0;top:825px;width:1679px;height:1px;background:#000"></div>
<div class="abs" style="left:207px;top:825px;width:104px;height:19px;background:#fff;border:1px solid #000;border-top:none;box-sizing:border-box"></div>
<div class="abs" style="left:208px;top:844px;width:104px;height:1px;background:#808080"></div>
<div class="tab" style="left:15px;color:#6d6d6d">EURUSD,Daily</div>
<div class="tab" style="left:117px;color:#6d6d6d">USDCHF,Daily</div>
<div class="tab" style="left:218px;color:#000">AUDUSD,Daily</div>
<div class="tab" style="left:322px;color:#6d6d6d">USDCAD,Daily</div>
<div class="tab" style="left:425px;color:#6d6d6d">USDCNH,Daily</div>
<div class="abs" style="left:107px;top:829px;width:1px;height:13px;background:#808080"></div>
<div class="abs" style="left:415px;top:829px;width:1px;height:13px;background:#808080"></div>
<div class="abs" style="left:519px;top:829px;width:1px;height:13px;background:#808080"></div>
<svg width="1679" height="845" viewBox="0 0 1679 845" style="pointer-events:none"><path d="M1657.5 830l-4 3.8l4 3.8z" fill="#a0a0a0"/><path d="M1672.3 830l4 3.8l-4 3.8z" fill="#a0a0a0"/></svg>
</div></body></html>
